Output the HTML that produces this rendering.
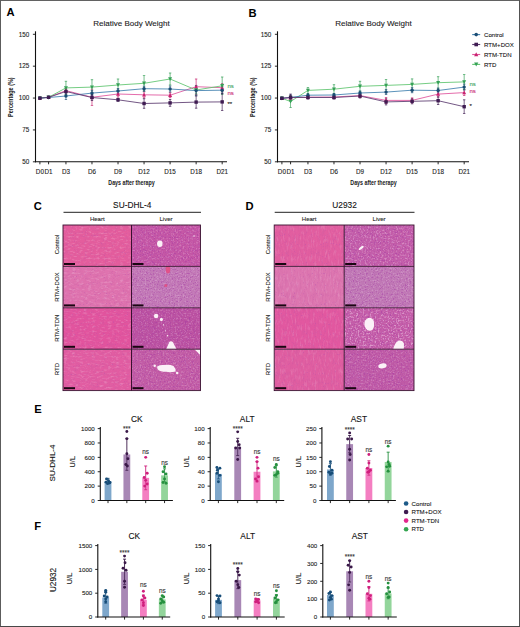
<!DOCTYPE html>
<html><head><meta charset="utf-8"><title>Figure</title><style>html,body{margin:0;padding:0;background:#fff;overflow:hidden}svg{display:block}</style></head><body>
<svg width="520" height="627" viewBox="0 0 520 627" font-family="'Liberation Sans', sans-serif">
<defs>
<filter id="hd0" x="0" y="0" width="100%" height="100%"><feTurbulence type="fractalNoise" baseFrequency="0.2 0.5" numOctaves="3" seed="1"/><feColorMatrix type="matrix" values="0 0 0 0 0.55  0 0 0 0 0.1  0 0 0 0 0.35  3 0 0 0 -1.4"/></filter>
<filter id="hl0" x="0" y="0" width="100%" height="100%"><feTurbulence type="fractalNoise" baseFrequency="0.25 0.55" numOctaves="3" seed="2"/><feColorMatrix type="matrix" values="0 0 0 0 1  0 0 0 0 0.9  0 0 0 0 0.97  3 0 0 0 -1.5"/></filter>
<filter id="ld0" x="0" y="0" width="100%" height="100%"><feTurbulence type="fractalNoise" baseFrequency="0.75" numOctaves="2" seed="2"/><feColorMatrix type="matrix" values="0 0 0 0 0.36  0 0 0 0 0.04  0 0 0 0 0.38  5 0 0 0 -2.7"/></filter>
<filter id="ll0" x="0" y="0" width="100%" height="100%"><feTurbulence type="fractalNoise" baseFrequency="0.6" numOctaves="2" seed="3"/><feColorMatrix type="matrix" values="0 0 0 0 0.98  0 0 0 0 0.8  0 0 0 0 0.94  4 0 0 0 -2.0"/></filter>
<filter id="hd1" x="0" y="0" width="100%" height="100%"><feTurbulence type="fractalNoise" baseFrequency="0.55 0.14" numOctaves="3" seed="4"/><feColorMatrix type="matrix" values="0 0 0 0 0.55  0 0 0 0 0.1  0 0 0 0 0.35  3 0 0 0 -1.4"/></filter>
<filter id="hl1" x="0" y="0" width="100%" height="100%"><feTurbulence type="fractalNoise" baseFrequency="0.6 0.16" numOctaves="3" seed="5"/><feColorMatrix type="matrix" values="0 0 0 0 1  0 0 0 0 0.9  0 0 0 0 0.97  3 0 0 0 -1.5"/></filter>
<filter id="ld1" x="0" y="0" width="100%" height="100%"><feTurbulence type="fractalNoise" baseFrequency="0.75" numOctaves="2" seed="7"/><feColorMatrix type="matrix" values="0 0 0 0 0.36  0 0 0 0 0.04  0 0 0 0 0.38  5 0 0 0 -2.7"/></filter>
<filter id="ll1" x="0" y="0" width="100%" height="100%"><feTurbulence type="fractalNoise" baseFrequency="0.6" numOctaves="2" seed="8"/><feColorMatrix type="matrix" values="0 0 0 0 0.98  0 0 0 0 0.8  0 0 0 0 0.94  4 0 0 0 -2.0"/></filter>
<filter id="hd2" x="0" y="0" width="100%" height="100%"><feTurbulence type="fractalNoise" baseFrequency="0.2 0.5" numOctaves="3" seed="7"/><feColorMatrix type="matrix" values="0 0 0 0 0.55  0 0 0 0 0.1  0 0 0 0 0.35  3 0 0 0 -1.4"/></filter>
<filter id="hl2" x="0" y="0" width="100%" height="100%"><feTurbulence type="fractalNoise" baseFrequency="0.25 0.55" numOctaves="3" seed="8"/><feColorMatrix type="matrix" values="0 0 0 0 1  0 0 0 0 0.9  0 0 0 0 0.97  3 0 0 0 -1.5"/></filter>
<filter id="ld2" x="0" y="0" width="100%" height="100%"><feTurbulence type="fractalNoise" baseFrequency="0.75" numOctaves="2" seed="12"/><feColorMatrix type="matrix" values="0 0 0 0 0.36  0 0 0 0 0.04  0 0 0 0 0.38  5 0 0 0 -2.7"/></filter>
<filter id="ll2" x="0" y="0" width="100%" height="100%"><feTurbulence type="fractalNoise" baseFrequency="0.6" numOctaves="2" seed="13"/><feColorMatrix type="matrix" values="0 0 0 0 0.98  0 0 0 0 0.8  0 0 0 0 0.94  4 0 0 0 -2.0"/></filter>
<filter id="hd3" x="0" y="0" width="100%" height="100%"><feTurbulence type="fractalNoise" baseFrequency="0.55 0.14" numOctaves="3" seed="10"/><feColorMatrix type="matrix" values="0 0 0 0 0.55  0 0 0 0 0.1  0 0 0 0 0.35  3 0 0 0 -1.4"/></filter>
<filter id="hl3" x="0" y="0" width="100%" height="100%"><feTurbulence type="fractalNoise" baseFrequency="0.6 0.16" numOctaves="3" seed="11"/><feColorMatrix type="matrix" values="0 0 0 0 1  0 0 0 0 0.9  0 0 0 0 0.97  3 0 0 0 -1.5"/></filter>
<filter id="ld3" x="0" y="0" width="100%" height="100%"><feTurbulence type="fractalNoise" baseFrequency="0.75" numOctaves="2" seed="17"/><feColorMatrix type="matrix" values="0 0 0 0 0.36  0 0 0 0 0.04  0 0 0 0 0.38  5 0 0 0 -2.7"/></filter>
<filter id="ll3" x="0" y="0" width="100%" height="100%"><feTurbulence type="fractalNoise" baseFrequency="0.6" numOctaves="2" seed="18"/><feColorMatrix type="matrix" values="0 0 0 0 0.98  0 0 0 0 0.8  0 0 0 0 0.94  4 0 0 0 -2.0"/></filter>
<filter id="hn0" x="0" y="0" width="100%" height="100%"><feTurbulence type="fractalNoise" baseFrequency="0.9" numOctaves="1" seed="11"/><feColorMatrix type="matrix" values="0 0 0 0 0.45  0 0 0 0 0.08  0 0 0 0 0.45  8 0 0 0 -5.2"/></filter>
<filter id="hn1" x="0" y="0" width="100%" height="100%"><feTurbulence type="fractalNoise" baseFrequency="0.9" numOctaves="1" seed="18"/><feColorMatrix type="matrix" values="0 0 0 0 0.45  0 0 0 0 0.08  0 0 0 0 0.45  8 0 0 0 -5.2"/></filter>
<filter id="hn2" x="0" y="0" width="100%" height="100%"><feTurbulence type="fractalNoise" baseFrequency="0.9" numOctaves="1" seed="25"/><feColorMatrix type="matrix" values="0 0 0 0 0.45  0 0 0 0 0.08  0 0 0 0 0.45  8 0 0 0 -5.2"/></filter>
<filter id="hn3" x="0" y="0" width="100%" height="100%"><feTurbulence type="fractalNoise" baseFrequency="0.9" numOctaves="1" seed="32"/><feColorMatrix type="matrix" values="0 0 0 0 0.45  0 0 0 0 0.08  0 0 0 0 0.45  8 0 0 0 -5.2"/></filter>
</defs>
<rect x="0" y="0" width="520" height="627" fill="#fff"/>
<text x="6.50" y="16.20" font-size="11.2" text-anchor="start" fill="#000" font-weight="bold" >A</text>
<text x="248.60" y="16.60" font-size="11.2" text-anchor="start" fill="#000" font-weight="bold" >B</text>
<text x="33.70" y="210.40" font-size="11.2" text-anchor="start" fill="#000" font-weight="bold" >C</text>
<text x="245.50" y="210.20" font-size="11.2" text-anchor="start" fill="#000" font-weight="bold" >D</text>
<text x="34.30" y="413.30" font-size="11.2" text-anchor="start" fill="#000" font-weight="bold" >E</text>
<text x="34.30" y="530.30" font-size="11.2" text-anchor="start" fill="#000" font-weight="bold" >F</text>
<text x="131.50" y="26.00" font-size="8.0" text-anchor="middle" fill="#1a1a1a" font-weight="normal" stroke="#1a1a1a" stroke-width="0.1" >Relative Body Weight</text>
<line x1="35.50" y1="31.30" x2="35.50" y2="162.30" stroke="#111" stroke-width="1.1" />
<line x1="35.00" y1="161.80" x2="227.00" y2="161.80" stroke="#111" stroke-width="1.1" />
<line x1="32.90" y1="34.30" x2="35.50" y2="34.30" stroke="#111" stroke-width="0.9" />
<text x="29.30" y="36.60" font-size="6.3" text-anchor="end" fill="#222" font-weight="normal" stroke="#222" stroke-width="0.1" >150</text>
<line x1="32.90" y1="66.18" x2="35.50" y2="66.18" stroke="#111" stroke-width="0.9" />
<text x="29.30" y="68.48" font-size="6.3" text-anchor="end" fill="#222" font-weight="normal" stroke="#222" stroke-width="0.1" >125</text>
<line x1="32.90" y1="98.05" x2="35.50" y2="98.05" stroke="#111" stroke-width="0.9" />
<text x="29.30" y="100.35" font-size="6.3" text-anchor="end" fill="#222" font-weight="normal" stroke="#222" stroke-width="0.1" >100</text>
<line x1="32.90" y1="129.93" x2="35.50" y2="129.93" stroke="#111" stroke-width="0.9" />
<text x="29.30" y="132.23" font-size="6.3" text-anchor="end" fill="#222" font-weight="normal" stroke="#222" stroke-width="0.1" >75</text>
<line x1="32.90" y1="161.80" x2="35.50" y2="161.80" stroke="#111" stroke-width="0.9" />
<text x="29.30" y="164.10" font-size="6.3" text-anchor="end" fill="#222" font-weight="normal" stroke="#222" stroke-width="0.1" >50</text>
<line x1="39.90" y1="161.80" x2="39.90" y2="164.30" stroke="#111" stroke-width="0.9" />
<text x="39.90" y="173.60" font-size="6.3" text-anchor="middle" fill="#222" font-weight="normal" stroke="#222" stroke-width="0.1" >D0</text>
<line x1="48.58" y1="161.80" x2="48.58" y2="164.30" stroke="#111" stroke-width="0.9" />
<text x="48.58" y="173.60" font-size="6.3" text-anchor="middle" fill="#222" font-weight="normal" stroke="#222" stroke-width="0.1" >D1</text>
<line x1="65.94" y1="161.80" x2="65.94" y2="164.30" stroke="#111" stroke-width="0.9" />
<text x="65.94" y="173.60" font-size="6.3" text-anchor="middle" fill="#222" font-weight="normal" stroke="#222" stroke-width="0.1" >D3</text>
<line x1="91.98" y1="161.80" x2="91.98" y2="164.30" stroke="#111" stroke-width="0.9" />
<text x="91.98" y="173.60" font-size="6.3" text-anchor="middle" fill="#222" font-weight="normal" stroke="#222" stroke-width="0.1" >D6</text>
<line x1="118.02" y1="161.80" x2="118.02" y2="164.30" stroke="#111" stroke-width="0.9" />
<text x="118.02" y="173.60" font-size="6.3" text-anchor="middle" fill="#222" font-weight="normal" stroke="#222" stroke-width="0.1" >D9</text>
<line x1="144.06" y1="161.80" x2="144.06" y2="164.30" stroke="#111" stroke-width="0.9" />
<text x="144.06" y="173.60" font-size="6.3" text-anchor="middle" fill="#222" font-weight="normal" stroke="#222" stroke-width="0.1" >D12</text>
<line x1="170.10" y1="161.80" x2="170.10" y2="164.30" stroke="#111" stroke-width="0.9" />
<text x="170.10" y="173.60" font-size="6.3" text-anchor="middle" fill="#222" font-weight="normal" stroke="#222" stroke-width="0.1" >D15</text>
<line x1="196.14" y1="161.80" x2="196.14" y2="164.30" stroke="#111" stroke-width="0.9" />
<text x="196.14" y="173.60" font-size="6.3" text-anchor="middle" fill="#222" font-weight="normal" stroke="#222" stroke-width="0.1" >D18</text>
<line x1="222.18" y1="161.80" x2="222.18" y2="164.30" stroke="#111" stroke-width="0.9" />
<text x="222.18" y="173.60" font-size="6.3" text-anchor="middle" fill="#222" font-weight="normal" stroke="#222" stroke-width="0.1" >D21</text>
<text x="108.30" y="184.6" font-size="7.0" font-weight="bold" fill="#1a1a1a" textLength="46.4" lengthAdjust="spacingAndGlyphs">Days after therapy</text>
<text x="0" y="0" font-size="7.0" font-weight="bold" fill="#1a1a1a" textLength="39.6" lengthAdjust="spacingAndGlyphs" transform="translate(12.80,116.9) rotate(-90)">Percentage (%)</text>
<line x1="48.58" y1="96.50" x2="48.58" y2="98.10" stroke="#c8236f" stroke-width="0.75" opacity="0.9"/>
<line x1="47.38" y1="96.50" x2="49.78" y2="96.50" stroke="#c8236f" stroke-width="0.8" opacity="0.9"/>
<line x1="47.38" y1="98.10" x2="49.78" y2="98.10" stroke="#c8236f" stroke-width="0.8" opacity="0.9"/>
<line x1="65.94" y1="88.60" x2="65.94" y2="92.60" stroke="#c8236f" stroke-width="0.75" opacity="0.9"/>
<line x1="64.74" y1="88.60" x2="67.14" y2="88.60" stroke="#c8236f" stroke-width="0.8" opacity="0.9"/>
<line x1="64.74" y1="92.60" x2="67.14" y2="92.60" stroke="#c8236f" stroke-width="0.8" opacity="0.9"/>
<line x1="91.98" y1="89.20" x2="91.98" y2="105.40" stroke="#c8236f" stroke-width="0.75" opacity="0.9"/>
<line x1="90.78" y1="89.20" x2="93.18" y2="89.20" stroke="#c8236f" stroke-width="0.8" opacity="0.9"/>
<line x1="90.78" y1="105.40" x2="93.18" y2="105.40" stroke="#c8236f" stroke-width="0.8" opacity="0.9"/>
<line x1="118.02" y1="91.00" x2="118.02" y2="97.00" stroke="#c8236f" stroke-width="0.75" opacity="0.9"/>
<line x1="116.82" y1="91.00" x2="119.22" y2="91.00" stroke="#c8236f" stroke-width="0.8" opacity="0.9"/>
<line x1="116.82" y1="97.00" x2="119.22" y2="97.00" stroke="#c8236f" stroke-width="0.8" opacity="0.9"/>
<line x1="144.06" y1="91.80" x2="144.06" y2="97.80" stroke="#c8236f" stroke-width="0.75" opacity="0.9"/>
<line x1="142.86" y1="91.80" x2="145.26" y2="91.80" stroke="#c8236f" stroke-width="0.8" opacity="0.9"/>
<line x1="142.86" y1="97.80" x2="145.26" y2="97.80" stroke="#c8236f" stroke-width="0.8" opacity="0.9"/>
<line x1="170.10" y1="92.70" x2="170.10" y2="97.70" stroke="#c8236f" stroke-width="0.75" opacity="0.9"/>
<line x1="168.90" y1="92.70" x2="171.30" y2="92.70" stroke="#c8236f" stroke-width="0.8" opacity="0.9"/>
<line x1="168.90" y1="97.70" x2="171.30" y2="97.70" stroke="#c8236f" stroke-width="0.8" opacity="0.9"/>
<line x1="196.14" y1="79.00" x2="196.14" y2="94.40" stroke="#c8236f" stroke-width="0.75" opacity="0.9"/>
<line x1="194.94" y1="79.00" x2="197.34" y2="79.00" stroke="#c8236f" stroke-width="0.8" opacity="0.9"/>
<line x1="194.94" y1="94.40" x2="197.34" y2="94.40" stroke="#c8236f" stroke-width="0.8" opacity="0.9"/>
<line x1="222.18" y1="83.70" x2="222.18" y2="91.70" stroke="#c8236f" stroke-width="0.75" opacity="0.9"/>
<line x1="220.98" y1="83.70" x2="223.38" y2="83.70" stroke="#c8236f" stroke-width="0.8" opacity="0.9"/>
<line x1="220.98" y1="91.70" x2="223.38" y2="91.70" stroke="#c8236f" stroke-width="0.8" opacity="0.9"/>
<line x1="48.58" y1="96.50" x2="48.58" y2="98.10" stroke="#36a057" stroke-width="0.75" opacity="0.9"/>
<line x1="47.38" y1="96.50" x2="49.78" y2="96.50" stroke="#36a057" stroke-width="0.8" opacity="0.9"/>
<line x1="47.38" y1="98.10" x2="49.78" y2="98.10" stroke="#36a057" stroke-width="0.8" opacity="0.9"/>
<line x1="65.94" y1="81.30" x2="65.94" y2="94.50" stroke="#36a057" stroke-width="0.75" opacity="0.9"/>
<line x1="64.74" y1="81.30" x2="67.14" y2="81.30" stroke="#36a057" stroke-width="0.8" opacity="0.9"/>
<line x1="64.74" y1="94.50" x2="67.14" y2="94.50" stroke="#36a057" stroke-width="0.8" opacity="0.9"/>
<line x1="91.98" y1="79.70" x2="91.98" y2="94.50" stroke="#36a057" stroke-width="0.75" opacity="0.9"/>
<line x1="90.78" y1="79.70" x2="93.18" y2="79.70" stroke="#36a057" stroke-width="0.8" opacity="0.9"/>
<line x1="90.78" y1="94.50" x2="93.18" y2="94.50" stroke="#36a057" stroke-width="0.8" opacity="0.9"/>
<line x1="118.02" y1="79.00" x2="118.02" y2="91.00" stroke="#36a057" stroke-width="0.75" opacity="0.9"/>
<line x1="116.82" y1="79.00" x2="119.22" y2="79.00" stroke="#36a057" stroke-width="0.8" opacity="0.9"/>
<line x1="116.82" y1="91.00" x2="119.22" y2="91.00" stroke="#36a057" stroke-width="0.8" opacity="0.9"/>
<line x1="144.06" y1="75.60" x2="144.06" y2="91.00" stroke="#36a057" stroke-width="0.75" opacity="0.9"/>
<line x1="142.86" y1="75.60" x2="145.26" y2="75.60" stroke="#36a057" stroke-width="0.8" opacity="0.9"/>
<line x1="142.86" y1="91.00" x2="145.26" y2="91.00" stroke="#36a057" stroke-width="0.8" opacity="0.9"/>
<line x1="170.10" y1="73.00" x2="170.10" y2="85.00" stroke="#36a057" stroke-width="0.75" opacity="0.9"/>
<line x1="168.90" y1="73.00" x2="171.30" y2="73.00" stroke="#36a057" stroke-width="0.8" opacity="0.9"/>
<line x1="168.90" y1="85.00" x2="171.30" y2="85.00" stroke="#36a057" stroke-width="0.8" opacity="0.9"/>
<line x1="196.14" y1="86.00" x2="196.14" y2="94.00" stroke="#36a057" stroke-width="0.75" opacity="0.9"/>
<line x1="194.94" y1="86.00" x2="197.34" y2="86.00" stroke="#36a057" stroke-width="0.8" opacity="0.9"/>
<line x1="194.94" y1="94.00" x2="197.34" y2="94.00" stroke="#36a057" stroke-width="0.8" opacity="0.9"/>
<line x1="222.18" y1="77.00" x2="222.18" y2="94.60" stroke="#36a057" stroke-width="0.75" opacity="0.9"/>
<line x1="220.98" y1="77.00" x2="223.38" y2="77.00" stroke="#36a057" stroke-width="0.8" opacity="0.9"/>
<line x1="220.98" y1="94.60" x2="223.38" y2="94.60" stroke="#36a057" stroke-width="0.8" opacity="0.9"/>
<line x1="48.58" y1="96.70" x2="48.58" y2="98.30" stroke="#1b4d73" stroke-width="0.75" opacity="0.9"/>
<line x1="47.38" y1="96.70" x2="49.78" y2="96.70" stroke="#1b4d73" stroke-width="0.8" opacity="0.9"/>
<line x1="47.38" y1="98.30" x2="49.78" y2="98.30" stroke="#1b4d73" stroke-width="0.8" opacity="0.9"/>
<line x1="65.94" y1="92.60" x2="65.94" y2="99.40" stroke="#1b4d73" stroke-width="0.75" opacity="0.9"/>
<line x1="64.74" y1="92.60" x2="67.14" y2="92.60" stroke="#1b4d73" stroke-width="0.8" opacity="0.9"/>
<line x1="64.74" y1="99.40" x2="67.14" y2="99.40" stroke="#1b4d73" stroke-width="0.8" opacity="0.9"/>
<line x1="91.98" y1="90.60" x2="91.98" y2="95.60" stroke="#1b4d73" stroke-width="0.75" opacity="0.9"/>
<line x1="90.78" y1="90.60" x2="93.18" y2="90.60" stroke="#1b4d73" stroke-width="0.8" opacity="0.9"/>
<line x1="90.78" y1="95.60" x2="93.18" y2="95.60" stroke="#1b4d73" stroke-width="0.8" opacity="0.9"/>
<line x1="118.02" y1="88.50" x2="118.02" y2="93.50" stroke="#1b4d73" stroke-width="0.75" opacity="0.9"/>
<line x1="116.82" y1="88.50" x2="119.22" y2="88.50" stroke="#1b4d73" stroke-width="0.8" opacity="0.9"/>
<line x1="116.82" y1="93.50" x2="119.22" y2="93.50" stroke="#1b4d73" stroke-width="0.8" opacity="0.9"/>
<line x1="144.06" y1="86.20" x2="144.06" y2="91.20" stroke="#1b4d73" stroke-width="0.75" opacity="0.9"/>
<line x1="142.86" y1="86.20" x2="145.26" y2="86.20" stroke="#1b4d73" stroke-width="0.8" opacity="0.9"/>
<line x1="142.86" y1="91.20" x2="145.26" y2="91.20" stroke="#1b4d73" stroke-width="0.8" opacity="0.9"/>
<line x1="170.10" y1="86.00" x2="170.10" y2="92.00" stroke="#1b4d73" stroke-width="0.75" opacity="0.9"/>
<line x1="168.90" y1="86.00" x2="171.30" y2="86.00" stroke="#1b4d73" stroke-width="0.8" opacity="0.9"/>
<line x1="168.90" y1="92.00" x2="171.30" y2="92.00" stroke="#1b4d73" stroke-width="0.8" opacity="0.9"/>
<line x1="196.14" y1="85.60" x2="196.14" y2="95.60" stroke="#1b4d73" stroke-width="0.75" opacity="0.9"/>
<line x1="194.94" y1="85.60" x2="197.34" y2="85.60" stroke="#1b4d73" stroke-width="0.8" opacity="0.9"/>
<line x1="194.94" y1="95.60" x2="197.34" y2="95.60" stroke="#1b4d73" stroke-width="0.8" opacity="0.9"/>
<line x1="222.18" y1="86.70" x2="222.18" y2="93.70" stroke="#1b4d73" stroke-width="0.75" opacity="0.9"/>
<line x1="220.98" y1="86.70" x2="223.38" y2="86.70" stroke="#1b4d73" stroke-width="0.8" opacity="0.9"/>
<line x1="220.98" y1="93.70" x2="223.38" y2="93.70" stroke="#1b4d73" stroke-width="0.8" opacity="0.9"/>
<line x1="48.58" y1="96.50" x2="48.58" y2="98.10" stroke="#3f1c52" stroke-width="0.75" opacity="0.9"/>
<line x1="47.38" y1="96.50" x2="49.78" y2="96.50" stroke="#3f1c52" stroke-width="0.8" opacity="0.9"/>
<line x1="47.38" y1="98.10" x2="49.78" y2="98.10" stroke="#3f1c52" stroke-width="0.8" opacity="0.9"/>
<line x1="65.94" y1="89.00" x2="65.94" y2="94.00" stroke="#3f1c52" stroke-width="0.75" opacity="0.9"/>
<line x1="64.74" y1="89.00" x2="67.14" y2="89.00" stroke="#3f1c52" stroke-width="0.8" opacity="0.9"/>
<line x1="64.74" y1="94.00" x2="67.14" y2="94.00" stroke="#3f1c52" stroke-width="0.8" opacity="0.9"/>
<line x1="91.98" y1="94.50" x2="91.98" y2="100.50" stroke="#3f1c52" stroke-width="0.75" opacity="0.9"/>
<line x1="90.78" y1="94.50" x2="93.18" y2="94.50" stroke="#3f1c52" stroke-width="0.8" opacity="0.9"/>
<line x1="90.78" y1="100.50" x2="93.18" y2="100.50" stroke="#3f1c52" stroke-width="0.8" opacity="0.9"/>
<line x1="118.02" y1="98.30" x2="118.02" y2="101.30" stroke="#3f1c52" stroke-width="0.75" opacity="0.9"/>
<line x1="116.82" y1="98.30" x2="119.22" y2="98.30" stroke="#3f1c52" stroke-width="0.8" opacity="0.9"/>
<line x1="116.82" y1="101.30" x2="119.22" y2="101.30" stroke="#3f1c52" stroke-width="0.8" opacity="0.9"/>
<line x1="144.06" y1="98.70" x2="144.06" y2="108.30" stroke="#3f1c52" stroke-width="0.75" opacity="0.9"/>
<line x1="142.86" y1="98.70" x2="145.26" y2="98.70" stroke="#3f1c52" stroke-width="0.8" opacity="0.9"/>
<line x1="142.86" y1="108.30" x2="145.26" y2="108.30" stroke="#3f1c52" stroke-width="0.8" opacity="0.9"/>
<line x1="170.10" y1="99.50" x2="170.10" y2="106.30" stroke="#3f1c52" stroke-width="0.75" opacity="0.9"/>
<line x1="168.90" y1="99.50" x2="171.30" y2="99.50" stroke="#3f1c52" stroke-width="0.8" opacity="0.9"/>
<line x1="168.90" y1="106.30" x2="171.30" y2="106.30" stroke="#3f1c52" stroke-width="0.8" opacity="0.9"/>
<line x1="196.14" y1="96.00" x2="196.14" y2="108.20" stroke="#3f1c52" stroke-width="0.75" opacity="0.9"/>
<line x1="194.94" y1="96.00" x2="197.34" y2="96.00" stroke="#3f1c52" stroke-width="0.8" opacity="0.9"/>
<line x1="194.94" y1="108.20" x2="197.34" y2="108.20" stroke="#3f1c52" stroke-width="0.8" opacity="0.9"/>
<line x1="222.18" y1="93.20" x2="222.18" y2="110.60" stroke="#3f1c52" stroke-width="0.75" opacity="0.9"/>
<line x1="220.98" y1="93.20" x2="223.38" y2="93.20" stroke="#3f1c52" stroke-width="0.8" opacity="0.9"/>
<line x1="220.98" y1="110.60" x2="223.38" y2="110.60" stroke="#3f1c52" stroke-width="0.8" opacity="0.9"/>
<polyline points="39.90,98.10 48.58,97.30 65.94,90.60 91.98,97.30 118.02,94.00 144.06,94.80 170.10,95.20 196.14,86.70 222.18,87.70" fill="none" stroke="#e0539d" stroke-width="0.95" opacity="0.9"/>
<polyline points="39.90,98.10 48.58,97.30 65.94,87.90 91.98,87.10 118.02,85.00 144.06,83.30 170.10,79.00 196.14,90.00 222.18,85.80" fill="none" stroke="#5ec46e" stroke-width="0.95" opacity="0.9"/>
<polyline points="39.90,98.10 48.58,97.50 65.94,96.00 91.98,93.10 118.02,91.00 144.06,88.70 170.10,89.00 196.14,90.60 222.18,90.20" fill="none" stroke="#3f7fae" stroke-width="0.95" opacity="0.9"/>
<polyline points="39.90,98.10 48.58,97.30 65.94,91.50 91.98,97.50 118.02,99.80 144.06,103.50 170.10,102.90 196.14,102.10 222.18,101.90" fill="none" stroke="#5b3b6f" stroke-width="0.95" opacity="0.9"/>
<polygon points="39.90,96.00 41.90,99.80 37.90,99.80" fill="#c8236f"/>
<polygon points="48.58,95.20 50.58,99.00 46.58,99.00" fill="#c8236f"/>
<polygon points="65.94,88.50 67.94,92.30 63.94,92.30" fill="#c8236f"/>
<polygon points="91.98,95.20 93.98,99.00 89.98,99.00" fill="#c8236f"/>
<polygon points="118.02,91.90 120.02,95.70 116.02,95.70" fill="#c8236f"/>
<polygon points="144.06,92.70 146.06,96.50 142.06,96.50" fill="#c8236f"/>
<polygon points="170.10,93.10 172.10,96.90 168.10,96.90" fill="#c8236f"/>
<polygon points="196.14,84.60 198.14,88.40 194.14,88.40" fill="#c8236f"/>
<polygon points="222.18,85.60 224.18,89.40 220.18,89.40" fill="#c8236f"/>
<polygon points="39.90,100.20 41.90,96.40 37.90,96.40" fill="#36a057"/>
<polygon points="48.58,99.40 50.58,95.60 46.58,95.60" fill="#36a057"/>
<polygon points="65.94,90.00 67.94,86.20 63.94,86.20" fill="#36a057"/>
<polygon points="91.98,89.20 93.98,85.40 89.98,85.40" fill="#36a057"/>
<polygon points="118.02,87.10 120.02,83.30 116.02,83.30" fill="#36a057"/>
<polygon points="144.06,85.40 146.06,81.60 142.06,81.60" fill="#36a057"/>
<polygon points="170.10,81.10 172.10,77.30 168.10,77.30" fill="#36a057"/>
<polygon points="196.14,92.10 198.14,88.30 194.14,88.30" fill="#36a057"/>
<polygon points="222.18,87.90 224.18,84.10 220.18,84.10" fill="#36a057"/>
<circle cx="39.90" cy="98.10" r="1.7" fill="#1b4d73"/>
<circle cx="48.58" cy="97.50" r="1.7" fill="#1b4d73"/>
<circle cx="65.94" cy="96.00" r="1.7" fill="#1b4d73"/>
<circle cx="91.98" cy="93.10" r="1.7" fill="#1b4d73"/>
<circle cx="118.02" cy="91.00" r="1.7" fill="#1b4d73"/>
<circle cx="144.06" cy="88.70" r="1.7" fill="#1b4d73"/>
<circle cx="170.10" cy="89.00" r="1.7" fill="#1b4d73"/>
<circle cx="196.14" cy="90.60" r="1.7" fill="#1b4d73"/>
<circle cx="222.18" cy="90.20" r="1.7" fill="#1b4d73"/>
<rect x="38.20" y="96.40" width="3.4" height="3.4" fill="#3f1c52"/>
<rect x="46.88" y="95.60" width="3.4" height="3.4" fill="#3f1c52"/>
<rect x="64.24" y="89.80" width="3.4" height="3.4" fill="#3f1c52"/>
<rect x="90.28" y="95.80" width="3.4" height="3.4" fill="#3f1c52"/>
<rect x="116.32" y="98.10" width="3.4" height="3.4" fill="#3f1c52"/>
<rect x="142.36" y="101.80" width="3.4" height="3.4" fill="#3f1c52"/>
<rect x="168.40" y="101.20" width="3.4" height="3.4" fill="#3f1c52"/>
<rect x="194.44" y="100.40" width="3.4" height="3.4" fill="#3f1c52"/>
<rect x="220.48" y="100.20" width="3.4" height="3.4" fill="#3f1c52"/>
<text x="227.38" y="88.20" font-size="6.0" text-anchor="start" fill="#36a057" font-weight="normal" stroke="#36a057" stroke-width="0.1" >ns</text>
<text x="227.38" y="95.40" font-size="6.0" text-anchor="start" fill="#c8236f" font-weight="normal" stroke="#c8236f" stroke-width="0.1" >ns</text>
<text x="227.38" y="105.80" font-size="6.0" text-anchor="start" fill="#222" font-weight="normal" stroke="#222" stroke-width="0.1" >**</text>
<text x="373.50" y="26.00" font-size="8.0" text-anchor="middle" fill="#1a1a1a" font-weight="normal" stroke="#1a1a1a" stroke-width="0.1" >Relative Body Weight</text>
<line x1="277.50" y1="31.30" x2="277.50" y2="162.30" stroke="#111" stroke-width="1.1" />
<line x1="277.00" y1="161.80" x2="469.00" y2="161.80" stroke="#111" stroke-width="1.1" />
<line x1="274.90" y1="34.30" x2="277.50" y2="34.30" stroke="#111" stroke-width="0.9" />
<text x="271.30" y="36.60" font-size="6.3" text-anchor="end" fill="#222" font-weight="normal" stroke="#222" stroke-width="0.1" >150</text>
<line x1="274.90" y1="66.18" x2="277.50" y2="66.18" stroke="#111" stroke-width="0.9" />
<text x="271.30" y="68.48" font-size="6.3" text-anchor="end" fill="#222" font-weight="normal" stroke="#222" stroke-width="0.1" >125</text>
<line x1="274.90" y1="98.05" x2="277.50" y2="98.05" stroke="#111" stroke-width="0.9" />
<text x="271.30" y="100.35" font-size="6.3" text-anchor="end" fill="#222" font-weight="normal" stroke="#222" stroke-width="0.1" >100</text>
<line x1="274.90" y1="129.93" x2="277.50" y2="129.93" stroke="#111" stroke-width="0.9" />
<text x="271.30" y="132.23" font-size="6.3" text-anchor="end" fill="#222" font-weight="normal" stroke="#222" stroke-width="0.1" >75</text>
<line x1="274.90" y1="161.80" x2="277.50" y2="161.80" stroke="#111" stroke-width="0.9" />
<text x="271.30" y="164.10" font-size="6.3" text-anchor="end" fill="#222" font-weight="normal" stroke="#222" stroke-width="0.1" >50</text>
<line x1="281.90" y1="161.80" x2="281.90" y2="164.30" stroke="#111" stroke-width="0.9" />
<text x="281.90" y="173.60" font-size="6.3" text-anchor="middle" fill="#222" font-weight="normal" stroke="#222" stroke-width="0.1" >D0</text>
<line x1="290.58" y1="161.80" x2="290.58" y2="164.30" stroke="#111" stroke-width="0.9" />
<text x="290.58" y="173.60" font-size="6.3" text-anchor="middle" fill="#222" font-weight="normal" stroke="#222" stroke-width="0.1" >D1</text>
<line x1="307.94" y1="161.80" x2="307.94" y2="164.30" stroke="#111" stroke-width="0.9" />
<text x="307.94" y="173.60" font-size="6.3" text-anchor="middle" fill="#222" font-weight="normal" stroke="#222" stroke-width="0.1" >D3</text>
<line x1="333.98" y1="161.80" x2="333.98" y2="164.30" stroke="#111" stroke-width="0.9" />
<text x="333.98" y="173.60" font-size="6.3" text-anchor="middle" fill="#222" font-weight="normal" stroke="#222" stroke-width="0.1" >D6</text>
<line x1="360.02" y1="161.80" x2="360.02" y2="164.30" stroke="#111" stroke-width="0.9" />
<text x="360.02" y="173.60" font-size="6.3" text-anchor="middle" fill="#222" font-weight="normal" stroke="#222" stroke-width="0.1" >D9</text>
<line x1="386.06" y1="161.80" x2="386.06" y2="164.30" stroke="#111" stroke-width="0.9" />
<text x="386.06" y="173.60" font-size="6.3" text-anchor="middle" fill="#222" font-weight="normal" stroke="#222" stroke-width="0.1" >D12</text>
<line x1="412.10" y1="161.80" x2="412.10" y2="164.30" stroke="#111" stroke-width="0.9" />
<text x="412.10" y="173.60" font-size="6.3" text-anchor="middle" fill="#222" font-weight="normal" stroke="#222" stroke-width="0.1" >D15</text>
<line x1="438.14" y1="161.80" x2="438.14" y2="164.30" stroke="#111" stroke-width="0.9" />
<text x="438.14" y="173.60" font-size="6.3" text-anchor="middle" fill="#222" font-weight="normal" stroke="#222" stroke-width="0.1" >D18</text>
<line x1="464.18" y1="161.80" x2="464.18" y2="164.30" stroke="#111" stroke-width="0.9" />
<text x="464.18" y="173.60" font-size="6.3" text-anchor="middle" fill="#222" font-weight="normal" stroke="#222" stroke-width="0.1" >D21</text>
<text x="350.30" y="184.6" font-size="7.0" font-weight="bold" fill="#1a1a1a" textLength="46.4" lengthAdjust="spacingAndGlyphs">Days after therapy</text>
<text x="0" y="0" font-size="7.0" font-weight="bold" fill="#1a1a1a" textLength="39.6" lengthAdjust="spacingAndGlyphs" transform="translate(254.80,116.9) rotate(-90)">Percentage (%)</text>
<line x1="281.90" y1="97.50" x2="281.90" y2="99.10" stroke="#c8236f" stroke-width="0.75" opacity="0.9"/>
<line x1="280.70" y1="97.50" x2="283.10" y2="97.50" stroke="#c8236f" stroke-width="0.8" opacity="0.9"/>
<line x1="280.70" y1="99.10" x2="283.10" y2="99.10" stroke="#c8236f" stroke-width="0.8" opacity="0.9"/>
<line x1="290.58" y1="95.70" x2="290.58" y2="99.70" stroke="#c8236f" stroke-width="0.75" opacity="0.9"/>
<line x1="289.38" y1="95.70" x2="291.78" y2="95.70" stroke="#c8236f" stroke-width="0.8" opacity="0.9"/>
<line x1="289.38" y1="99.70" x2="291.78" y2="99.70" stroke="#c8236f" stroke-width="0.8" opacity="0.9"/>
<line x1="307.94" y1="95.60" x2="307.94" y2="98.60" stroke="#c8236f" stroke-width="0.75" opacity="0.9"/>
<line x1="306.74" y1="95.60" x2="309.14" y2="95.60" stroke="#c8236f" stroke-width="0.8" opacity="0.9"/>
<line x1="306.74" y1="98.60" x2="309.14" y2="98.60" stroke="#c8236f" stroke-width="0.8" opacity="0.9"/>
<line x1="333.98" y1="95.50" x2="333.98" y2="98.50" stroke="#c8236f" stroke-width="0.75" opacity="0.9"/>
<line x1="332.78" y1="95.50" x2="335.18" y2="95.50" stroke="#c8236f" stroke-width="0.8" opacity="0.9"/>
<line x1="332.78" y1="98.50" x2="335.18" y2="98.50" stroke="#c8236f" stroke-width="0.8" opacity="0.9"/>
<line x1="360.02" y1="93.60" x2="360.02" y2="97.60" stroke="#c8236f" stroke-width="0.75" opacity="0.9"/>
<line x1="358.82" y1="93.60" x2="361.22" y2="93.60" stroke="#c8236f" stroke-width="0.8" opacity="0.9"/>
<line x1="358.82" y1="97.60" x2="361.22" y2="97.60" stroke="#c8236f" stroke-width="0.8" opacity="0.9"/>
<line x1="386.06" y1="97.40" x2="386.06" y2="103.40" stroke="#c8236f" stroke-width="0.75" opacity="0.9"/>
<line x1="384.86" y1="97.40" x2="387.26" y2="97.40" stroke="#c8236f" stroke-width="0.8" opacity="0.9"/>
<line x1="384.86" y1="103.40" x2="387.26" y2="103.40" stroke="#c8236f" stroke-width="0.8" opacity="0.9"/>
<line x1="412.10" y1="97.90" x2="412.10" y2="102.90" stroke="#c8236f" stroke-width="0.75" opacity="0.9"/>
<line x1="410.90" y1="97.90" x2="413.30" y2="97.90" stroke="#c8236f" stroke-width="0.8" opacity="0.9"/>
<line x1="410.90" y1="102.90" x2="413.30" y2="102.90" stroke="#c8236f" stroke-width="0.8" opacity="0.9"/>
<line x1="438.14" y1="91.10" x2="438.14" y2="97.10" stroke="#c8236f" stroke-width="0.75" opacity="0.9"/>
<line x1="436.94" y1="91.10" x2="439.34" y2="91.10" stroke="#c8236f" stroke-width="0.8" opacity="0.9"/>
<line x1="436.94" y1="97.10" x2="439.34" y2="97.10" stroke="#c8236f" stroke-width="0.8" opacity="0.9"/>
<line x1="464.18" y1="89.60" x2="464.18" y2="95.60" stroke="#c8236f" stroke-width="0.75" opacity="0.9"/>
<line x1="462.98" y1="89.60" x2="465.38" y2="89.60" stroke="#c8236f" stroke-width="0.8" opacity="0.9"/>
<line x1="462.98" y1="95.60" x2="465.38" y2="95.60" stroke="#c8236f" stroke-width="0.8" opacity="0.9"/>
<line x1="281.90" y1="97.50" x2="281.90" y2="99.10" stroke="#36a057" stroke-width="0.75" opacity="0.9"/>
<line x1="280.70" y1="97.50" x2="283.10" y2="97.50" stroke="#36a057" stroke-width="0.8" opacity="0.9"/>
<line x1="280.70" y1="99.10" x2="283.10" y2="99.10" stroke="#36a057" stroke-width="0.8" opacity="0.9"/>
<line x1="290.58" y1="95.40" x2="290.58" y2="107.60" stroke="#36a057" stroke-width="0.75" opacity="0.9"/>
<line x1="289.38" y1="95.40" x2="291.78" y2="95.40" stroke="#36a057" stroke-width="0.8" opacity="0.9"/>
<line x1="289.38" y1="107.60" x2="291.78" y2="107.60" stroke="#36a057" stroke-width="0.8" opacity="0.9"/>
<line x1="307.94" y1="87.40" x2="307.94" y2="93.40" stroke="#36a057" stroke-width="0.75" opacity="0.9"/>
<line x1="306.74" y1="87.40" x2="309.14" y2="87.40" stroke="#36a057" stroke-width="0.8" opacity="0.9"/>
<line x1="306.74" y1="93.40" x2="309.14" y2="93.40" stroke="#36a057" stroke-width="0.8" opacity="0.9"/>
<line x1="333.98" y1="84.70" x2="333.98" y2="93.70" stroke="#36a057" stroke-width="0.75" opacity="0.9"/>
<line x1="332.78" y1="84.70" x2="335.18" y2="84.70" stroke="#36a057" stroke-width="0.8" opacity="0.9"/>
<line x1="332.78" y1="93.70" x2="335.18" y2="93.70" stroke="#36a057" stroke-width="0.8" opacity="0.9"/>
<line x1="360.02" y1="81.30" x2="360.02" y2="91.30" stroke="#36a057" stroke-width="0.75" opacity="0.9"/>
<line x1="358.82" y1="81.30" x2="361.22" y2="81.30" stroke="#36a057" stroke-width="0.8" opacity="0.9"/>
<line x1="358.82" y1="91.30" x2="361.22" y2="91.30" stroke="#36a057" stroke-width="0.8" opacity="0.9"/>
<line x1="386.06" y1="79.40" x2="386.06" y2="91.40" stroke="#36a057" stroke-width="0.75" opacity="0.9"/>
<line x1="384.86" y1="79.40" x2="387.26" y2="79.40" stroke="#36a057" stroke-width="0.8" opacity="0.9"/>
<line x1="384.86" y1="91.40" x2="387.26" y2="91.40" stroke="#36a057" stroke-width="0.8" opacity="0.9"/>
<line x1="412.10" y1="78.90" x2="412.10" y2="89.90" stroke="#36a057" stroke-width="0.75" opacity="0.9"/>
<line x1="410.90" y1="78.90" x2="413.30" y2="78.90" stroke="#36a057" stroke-width="0.8" opacity="0.9"/>
<line x1="410.90" y1="89.90" x2="413.30" y2="89.90" stroke="#36a057" stroke-width="0.8" opacity="0.9"/>
<line x1="438.14" y1="76.70" x2="438.14" y2="88.70" stroke="#36a057" stroke-width="0.75" opacity="0.9"/>
<line x1="436.94" y1="76.70" x2="439.34" y2="76.70" stroke="#36a057" stroke-width="0.8" opacity="0.9"/>
<line x1="436.94" y1="88.70" x2="439.34" y2="88.70" stroke="#36a057" stroke-width="0.8" opacity="0.9"/>
<line x1="464.18" y1="74.40" x2="464.18" y2="89.40" stroke="#36a057" stroke-width="0.75" opacity="0.9"/>
<line x1="462.98" y1="74.40" x2="465.38" y2="74.40" stroke="#36a057" stroke-width="0.8" opacity="0.9"/>
<line x1="462.98" y1="89.40" x2="465.38" y2="89.40" stroke="#36a057" stroke-width="0.8" opacity="0.9"/>
<line x1="281.90" y1="97.50" x2="281.90" y2="99.10" stroke="#1b4d73" stroke-width="0.75" opacity="0.9"/>
<line x1="280.70" y1="97.50" x2="283.10" y2="97.50" stroke="#1b4d73" stroke-width="0.8" opacity="0.9"/>
<line x1="280.70" y1="99.10" x2="283.10" y2="99.10" stroke="#1b4d73" stroke-width="0.8" opacity="0.9"/>
<line x1="290.58" y1="94.90" x2="290.58" y2="99.90" stroke="#1b4d73" stroke-width="0.75" opacity="0.9"/>
<line x1="289.38" y1="94.90" x2="291.78" y2="94.90" stroke="#1b4d73" stroke-width="0.8" opacity="0.9"/>
<line x1="289.38" y1="99.90" x2="291.78" y2="99.90" stroke="#1b4d73" stroke-width="0.8" opacity="0.9"/>
<line x1="307.94" y1="93.70" x2="307.94" y2="96.70" stroke="#1b4d73" stroke-width="0.75" opacity="0.9"/>
<line x1="306.74" y1="93.70" x2="309.14" y2="93.70" stroke="#1b4d73" stroke-width="0.8" opacity="0.9"/>
<line x1="306.74" y1="96.70" x2="309.14" y2="96.70" stroke="#1b4d73" stroke-width="0.8" opacity="0.9"/>
<line x1="333.98" y1="93.50" x2="333.98" y2="96.50" stroke="#1b4d73" stroke-width="0.75" opacity="0.9"/>
<line x1="332.78" y1="93.50" x2="335.18" y2="93.50" stroke="#1b4d73" stroke-width="0.8" opacity="0.9"/>
<line x1="332.78" y1="96.50" x2="335.18" y2="96.50" stroke="#1b4d73" stroke-width="0.8" opacity="0.9"/>
<line x1="360.02" y1="91.00" x2="360.02" y2="95.00" stroke="#1b4d73" stroke-width="0.75" opacity="0.9"/>
<line x1="358.82" y1="91.00" x2="361.22" y2="91.00" stroke="#1b4d73" stroke-width="0.8" opacity="0.9"/>
<line x1="358.82" y1="95.00" x2="361.22" y2="95.00" stroke="#1b4d73" stroke-width="0.8" opacity="0.9"/>
<line x1="386.06" y1="89.60" x2="386.06" y2="94.60" stroke="#1b4d73" stroke-width="0.75" opacity="0.9"/>
<line x1="384.86" y1="89.60" x2="387.26" y2="89.60" stroke="#1b4d73" stroke-width="0.8" opacity="0.9"/>
<line x1="384.86" y1="94.60" x2="387.26" y2="94.60" stroke="#1b4d73" stroke-width="0.8" opacity="0.9"/>
<line x1="412.10" y1="87.70" x2="412.10" y2="92.70" stroke="#1b4d73" stroke-width="0.75" opacity="0.9"/>
<line x1="410.90" y1="87.70" x2="413.30" y2="87.70" stroke="#1b4d73" stroke-width="0.8" opacity="0.9"/>
<line x1="410.90" y1="92.70" x2="413.30" y2="92.70" stroke="#1b4d73" stroke-width="0.8" opacity="0.9"/>
<line x1="438.14" y1="88.00" x2="438.14" y2="93.00" stroke="#1b4d73" stroke-width="0.75" opacity="0.9"/>
<line x1="436.94" y1="88.00" x2="439.34" y2="88.00" stroke="#1b4d73" stroke-width="0.8" opacity="0.9"/>
<line x1="436.94" y1="93.00" x2="439.34" y2="93.00" stroke="#1b4d73" stroke-width="0.8" opacity="0.9"/>
<line x1="464.18" y1="84.10" x2="464.18" y2="90.10" stroke="#1b4d73" stroke-width="0.75" opacity="0.9"/>
<line x1="462.98" y1="84.10" x2="465.38" y2="84.10" stroke="#1b4d73" stroke-width="0.8" opacity="0.9"/>
<line x1="462.98" y1="90.10" x2="465.38" y2="90.10" stroke="#1b4d73" stroke-width="0.8" opacity="0.9"/>
<line x1="281.90" y1="97.50" x2="281.90" y2="99.10" stroke="#3f1c52" stroke-width="0.75" opacity="0.9"/>
<line x1="280.70" y1="97.50" x2="283.10" y2="97.50" stroke="#3f1c52" stroke-width="0.8" opacity="0.9"/>
<line x1="280.70" y1="99.10" x2="283.10" y2="99.10" stroke="#3f1c52" stroke-width="0.8" opacity="0.9"/>
<line x1="290.58" y1="94.10" x2="290.58" y2="100.70" stroke="#3f1c52" stroke-width="0.75" opacity="0.9"/>
<line x1="289.38" y1="94.10" x2="291.78" y2="94.10" stroke="#3f1c52" stroke-width="0.8" opacity="0.9"/>
<line x1="289.38" y1="100.70" x2="291.78" y2="100.70" stroke="#3f1c52" stroke-width="0.8" opacity="0.9"/>
<line x1="307.94" y1="96.00" x2="307.94" y2="99.00" stroke="#3f1c52" stroke-width="0.75" opacity="0.9"/>
<line x1="306.74" y1="96.00" x2="309.14" y2="96.00" stroke="#3f1c52" stroke-width="0.8" opacity="0.9"/>
<line x1="306.74" y1="99.00" x2="309.14" y2="99.00" stroke="#3f1c52" stroke-width="0.8" opacity="0.9"/>
<line x1="333.98" y1="96.00" x2="333.98" y2="99.00" stroke="#3f1c52" stroke-width="0.75" opacity="0.9"/>
<line x1="332.78" y1="96.00" x2="335.18" y2="96.00" stroke="#3f1c52" stroke-width="0.8" opacity="0.9"/>
<line x1="332.78" y1="99.00" x2="335.18" y2="99.00" stroke="#3f1c52" stroke-width="0.8" opacity="0.9"/>
<line x1="360.02" y1="94.00" x2="360.02" y2="98.00" stroke="#3f1c52" stroke-width="0.75" opacity="0.9"/>
<line x1="358.82" y1="94.00" x2="361.22" y2="94.00" stroke="#3f1c52" stroke-width="0.8" opacity="0.9"/>
<line x1="358.82" y1="98.00" x2="361.22" y2="98.00" stroke="#3f1c52" stroke-width="0.8" opacity="0.9"/>
<line x1="386.06" y1="98.90" x2="386.06" y2="104.90" stroke="#3f1c52" stroke-width="0.75" opacity="0.9"/>
<line x1="384.86" y1="98.90" x2="387.26" y2="98.90" stroke="#3f1c52" stroke-width="0.8" opacity="0.9"/>
<line x1="384.86" y1="104.90" x2="387.26" y2="104.90" stroke="#3f1c52" stroke-width="0.8" opacity="0.9"/>
<line x1="412.10" y1="98.80" x2="412.10" y2="103.80" stroke="#3f1c52" stroke-width="0.75" opacity="0.9"/>
<line x1="410.90" y1="98.80" x2="413.30" y2="98.80" stroke="#3f1c52" stroke-width="0.8" opacity="0.9"/>
<line x1="410.90" y1="103.80" x2="413.30" y2="103.80" stroke="#3f1c52" stroke-width="0.8" opacity="0.9"/>
<line x1="438.14" y1="96.90" x2="438.14" y2="104.50" stroke="#3f1c52" stroke-width="0.75" opacity="0.9"/>
<line x1="436.94" y1="96.90" x2="439.34" y2="96.90" stroke="#3f1c52" stroke-width="0.8" opacity="0.9"/>
<line x1="436.94" y1="104.50" x2="439.34" y2="104.50" stroke="#3f1c52" stroke-width="0.8" opacity="0.9"/>
<line x1="464.18" y1="99.80" x2="464.18" y2="113.60" stroke="#3f1c52" stroke-width="0.75" opacity="0.9"/>
<line x1="462.98" y1="99.80" x2="465.38" y2="99.80" stroke="#3f1c52" stroke-width="0.8" opacity="0.9"/>
<line x1="462.98" y1="113.60" x2="465.38" y2="113.60" stroke="#3f1c52" stroke-width="0.8" opacity="0.9"/>
<polyline points="281.90,98.30 290.58,97.70 307.94,97.10 333.98,97.00 360.02,95.60 386.06,100.40 412.10,100.40 438.14,94.10 464.18,92.60" fill="none" stroke="#e0539d" stroke-width="0.95" opacity="0.9"/>
<polyline points="281.90,98.30 290.58,101.50 307.94,90.40 333.98,89.20 360.02,86.30 386.06,85.40 412.10,84.40 438.14,82.70 464.18,81.90" fill="none" stroke="#5ec46e" stroke-width="0.95" opacity="0.9"/>
<polyline points="281.90,98.30 290.58,97.40 307.94,95.20 333.98,95.00 360.02,93.00 386.06,92.10 412.10,90.20 438.14,90.50 464.18,87.10" fill="none" stroke="#3f7fae" stroke-width="0.95" opacity="0.9"/>
<polyline points="281.90,98.30 290.58,97.40 307.94,97.50 333.98,97.50 360.02,96.00 386.06,101.90 412.10,101.30 438.14,100.70 464.18,106.70" fill="none" stroke="#5b3b6f" stroke-width="0.95" opacity="0.9"/>
<polygon points="281.90,96.20 283.90,100.00 279.90,100.00" fill="#c8236f"/>
<polygon points="290.58,95.60 292.58,99.40 288.58,99.40" fill="#c8236f"/>
<polygon points="307.94,95.00 309.94,98.80 305.94,98.80" fill="#c8236f"/>
<polygon points="333.98,94.90 335.98,98.70 331.98,98.70" fill="#c8236f"/>
<polygon points="360.02,93.50 362.02,97.30 358.02,97.30" fill="#c8236f"/>
<polygon points="386.06,98.30 388.06,102.10 384.06,102.10" fill="#c8236f"/>
<polygon points="412.10,98.30 414.10,102.10 410.10,102.10" fill="#c8236f"/>
<polygon points="438.14,92.00 440.14,95.80 436.14,95.80" fill="#c8236f"/>
<polygon points="464.18,90.50 466.18,94.30 462.18,94.30" fill="#c8236f"/>
<polygon points="281.90,100.40 283.90,96.60 279.90,96.60" fill="#36a057"/>
<polygon points="290.58,103.60 292.58,99.80 288.58,99.80" fill="#36a057"/>
<polygon points="307.94,92.50 309.94,88.70 305.94,88.70" fill="#36a057"/>
<polygon points="333.98,91.30 335.98,87.50 331.98,87.50" fill="#36a057"/>
<polygon points="360.02,88.40 362.02,84.60 358.02,84.60" fill="#36a057"/>
<polygon points="386.06,87.50 388.06,83.70 384.06,83.70" fill="#36a057"/>
<polygon points="412.10,86.50 414.10,82.70 410.10,82.70" fill="#36a057"/>
<polygon points="438.14,84.80 440.14,81.00 436.14,81.00" fill="#36a057"/>
<polygon points="464.18,84.00 466.18,80.20 462.18,80.20" fill="#36a057"/>
<circle cx="281.90" cy="98.30" r="1.7" fill="#1b4d73"/>
<circle cx="290.58" cy="97.40" r="1.7" fill="#1b4d73"/>
<circle cx="307.94" cy="95.20" r="1.7" fill="#1b4d73"/>
<circle cx="333.98" cy="95.00" r="1.7" fill="#1b4d73"/>
<circle cx="360.02" cy="93.00" r="1.7" fill="#1b4d73"/>
<circle cx="386.06" cy="92.10" r="1.7" fill="#1b4d73"/>
<circle cx="412.10" cy="90.20" r="1.7" fill="#1b4d73"/>
<circle cx="438.14" cy="90.50" r="1.7" fill="#1b4d73"/>
<circle cx="464.18" cy="87.10" r="1.7" fill="#1b4d73"/>
<rect x="280.20" y="96.60" width="3.4" height="3.4" fill="#3f1c52"/>
<rect x="288.88" y="95.70" width="3.4" height="3.4" fill="#3f1c52"/>
<rect x="306.24" y="95.80" width="3.4" height="3.4" fill="#3f1c52"/>
<rect x="332.28" y="95.80" width="3.4" height="3.4" fill="#3f1c52"/>
<rect x="358.32" y="94.30" width="3.4" height="3.4" fill="#3f1c52"/>
<rect x="384.36" y="100.20" width="3.4" height="3.4" fill="#3f1c52"/>
<rect x="410.40" y="99.60" width="3.4" height="3.4" fill="#3f1c52"/>
<rect x="436.44" y="99.00" width="3.4" height="3.4" fill="#3f1c52"/>
<rect x="462.48" y="105.00" width="3.4" height="3.4" fill="#3f1c52"/>
<text x="469.38" y="85.60" font-size="6.0" text-anchor="start" fill="#36a057" font-weight="normal" stroke="#36a057" stroke-width="0.1" >ns</text>
<text x="469.38" y="93.30" font-size="6.0" text-anchor="start" fill="#c8236f" font-weight="normal" stroke="#c8236f" stroke-width="0.1" >ns</text>
<text x="469.38" y="108.00" font-size="6.0" text-anchor="start" fill="#222" font-weight="normal" stroke="#222" stroke-width="0.1" >*</text>
<line x1="472.20" y1="34.60" x2="480.20" y2="34.60" stroke="#3f7fae" stroke-width="1.1" />
<circle cx="476.20" cy="34.60" r="1.8" fill="#1b4d73"/>
<text x="484.00" y="36.80" font-size="6.1" text-anchor="start" fill="#1a1a1a" font-weight="normal" stroke="#1a1a1a" stroke-width="0.1" >Control</text>
<line x1="472.20" y1="44.50" x2="480.20" y2="44.50" stroke="#5b3b6f" stroke-width="1.1" />
<rect x="474.40" y="42.70" width="3.6" height="3.6" fill="#3f1c52"/>
<text x="484.00" y="46.70" font-size="6.1" text-anchor="start" fill="#1a1a1a" font-weight="normal" stroke="#1a1a1a" stroke-width="0.1" >RTM+DOX</text>
<line x1="472.20" y1="54.50" x2="480.20" y2="54.50" stroke="#e0539d" stroke-width="1.1" />
<polygon points="476.20,52.30 478.30,56.30 474.10,56.30" fill="#c8236f"/>
<text x="484.00" y="56.70" font-size="6.1" text-anchor="start" fill="#1a1a1a" font-weight="normal" stroke="#1a1a1a" stroke-width="0.1" >RTM-TDN</text>
<line x1="472.20" y1="64.40" x2="480.20" y2="64.40" stroke="#5ec46e" stroke-width="1.1" />
<polygon points="476.20,66.60 478.30,62.60 474.10,62.60" fill="#36a057"/>
<text x="484.00" y="66.60" font-size="6.1" text-anchor="start" fill="#1a1a1a" font-weight="normal" stroke="#1a1a1a" stroke-width="0.1" >RTD</text>
<line x1="63.50" y1="212.30" x2="201.00" y2="212.30" stroke="#222" stroke-width="1.0" />
<text x="132.25" y="208.10" font-size="8.3" text-anchor="middle" fill="#111" font-weight="normal" stroke="#111" stroke-width="0.1" >SU-DHL-4</text>
<text x="97.25" y="221.00" font-size="6.0" text-anchor="middle" fill="#1a1a1a" font-weight="normal" stroke="#1a1a1a" stroke-width="0.1" >Heart</text>
<text x="166.00" y="221.00" font-size="6.0" text-anchor="middle" fill="#1a1a1a" font-weight="normal" stroke="#1a1a1a" stroke-width="0.1" >Liver</text>
<text x="0" y="0" font-size="6.0" fill="#1a1a1a" stroke="#1a1a1a" stroke-width="0.1" text-anchor="middle" transform="translate(59.10,244.50) rotate(-90)">Control</text>
<text x="0" y="0" font-size="6.0" fill="#1a1a1a" stroke="#1a1a1a" stroke-width="0.1" text-anchor="middle" transform="translate(59.10,287.10) rotate(-90)">RTM+DOX</text>
<text x="0" y="0" font-size="6.0" fill="#1a1a1a" stroke="#1a1a1a" stroke-width="0.1" text-anchor="middle" transform="translate(59.10,328.20) rotate(-90)">RTM-TDN</text>
<text x="0" y="0" font-size="6.0" fill="#1a1a1a" stroke="#1a1a1a" stroke-width="0.1" text-anchor="middle" transform="translate(59.10,369.10) rotate(-90)">RTD</text>
<clipPath id="cpCh0"><rect x="63.00" y="225.00" width="68.50" height="41.40"/></clipPath>
<g clip-path="url(#cpCh0)">
<rect x="63.00" y="225.00" width="68.50" height="41.40" fill="#e45d9d"/>
<rect x="63.00" y="225.00" width="68.50" height="41.40" filter="url(#hd0)" opacity="0.24"/>
<rect x="63.00" y="225.00" width="68.50" height="41.40" filter="url(#hl0)" opacity="0.2"/>
<rect x="63.00" y="225.00" width="68.50" height="41.40" filter="url(#hn0)" opacity="0.35"/>
</g>
<rect x="64.00" y="263.00" width="11" height="2.0" fill="#1a0612"/>
<clipPath id="cpCl0"><rect x="131.50" y="225.00" width="69.00" height="41.40"/></clipPath>
<g clip-path="url(#cpCl0)">
<rect x="131.50" y="225.00" width="69.00" height="41.40" fill="#c456a5"/>
<rect x="131.50" y="225.00" width="69.00" height="41.40" filter="url(#ld3)" opacity="0.45"/>
<rect x="131.50" y="225.00" width="69.00" height="41.40" filter="url(#ll3)" opacity="0.22"/>
<ellipse cx="159.80" cy="243.80" rx="2.75" ry="3.25" fill="#fbf1f7" transform="rotate(0 159.80 243.80)"/>
<ellipse cx="194.00" cy="236.00" rx="0.75" ry="0.75" fill="#fbf1f7" transform="rotate(0 194.00 236.00)"/>
</g>
<rect x="132.50" y="263.00" width="11" height="2.0" fill="#1a0612"/>
<clipPath id="cpCh1"><rect x="63.00" y="266.40" width="68.50" height="41.40"/></clipPath>
<g clip-path="url(#cpCh1)">
<rect x="63.00" y="266.40" width="68.50" height="41.40" fill="#df73af"/>
<rect x="63.00" y="266.40" width="68.50" height="41.40" filter="url(#hd2)" opacity="0.24"/>
<rect x="63.00" y="266.40" width="68.50" height="41.40" filter="url(#hl2)" opacity="0.2"/>
<rect x="63.00" y="266.40" width="68.50" height="41.40" filter="url(#hn2)" opacity="0.35"/>
</g>
<rect x="64.00" y="304.40" width="11" height="2.0" fill="#1a0612"/>
<clipPath id="cpCl1"><rect x="131.50" y="266.40" width="69.00" height="41.40"/></clipPath>
<g clip-path="url(#cpCl1)">
<rect x="131.50" y="266.40" width="69.00" height="41.40" fill="#c278b6"/>
<rect x="131.50" y="266.40" width="69.00" height="41.40" filter="url(#ld0)" opacity="0.45"/>
<rect x="131.50" y="266.40" width="69.00" height="41.40" filter="url(#ll0)" opacity="0.22"/>
<ellipse cx="168.00" cy="268.90" rx="2.25" ry="4.50" fill="#ea4a7e" opacity="0.8" transform="rotate(0 168.00 268.90)"/>
<ellipse cx="165.80" cy="285.40" rx="1.50" ry="1.50" fill="#e5487a" opacity="0.8" transform="rotate(0 165.80 285.40)"/>
</g>
<rect x="132.50" y="304.40" width="11" height="2.0" fill="#1a0612"/>
<clipPath id="cpCh2"><rect x="63.00" y="307.80" width="68.50" height="41.40"/></clipPath>
<g clip-path="url(#cpCh2)">
<rect x="63.00" y="307.80" width="68.50" height="41.40" fill="#e2549e"/>
<rect x="63.00" y="307.80" width="68.50" height="41.40" filter="url(#hd0)" opacity="0.24"/>
<rect x="63.00" y="307.80" width="68.50" height="41.40" filter="url(#hl0)" opacity="0.2"/>
<rect x="63.00" y="307.80" width="68.50" height="41.40" filter="url(#hn0)" opacity="0.35"/>
</g>
<rect x="64.00" y="345.80" width="11" height="2.0" fill="#1a0612"/>
<clipPath id="cpCl2"><rect x="131.50" y="307.80" width="69.00" height="41.40"/></clipPath>
<g clip-path="url(#cpCl2)">
<rect x="131.50" y="307.80" width="69.00" height="41.40" fill="#bb51a1"/>
<rect x="131.50" y="307.80" width="69.00" height="41.40" filter="url(#ld1)" opacity="0.45"/>
<rect x="131.50" y="307.80" width="69.00" height="41.40" filter="url(#ll1)" opacity="0.22"/>
<ellipse cx="156.10" cy="316.10" rx="2.25" ry="2.25" fill="#fbf1f7" transform="rotate(0 156.10 316.10)"/>
<ellipse cx="161.40" cy="319.60" rx="1.50" ry="1.75" fill="#fbf1f7" transform="rotate(0 161.40 319.60)"/>
<ellipse cx="163.50" cy="324.80" rx="0.60" ry="0.60" fill="#fbf1f7" transform="rotate(0 163.50 324.80)"/>
<ellipse cx="165.50" cy="330.80" rx="0.60" ry="0.60" fill="#fbf1f7" transform="rotate(0 165.50 330.80)"/>
<ellipse cx="167.50" cy="335.80" rx="0.75" ry="0.75" fill="#fbf1f7" transform="rotate(0 167.50 335.80)"/>
<path d="M165.8,350 L169.2,342.2 Q171,340.6 172.8,342 L177,350 Z" fill="#fbf1f7"/>
</g>
<rect x="132.50" y="345.80" width="11" height="2.0" fill="#1a0612"/>
<clipPath id="cpCh3"><rect x="63.00" y="349.20" width="68.50" height="41.40"/></clipPath>
<g clip-path="url(#cpCh3)">
<rect x="63.00" y="349.20" width="68.50" height="41.40" fill="#e25da2"/>
<rect x="63.00" y="349.20" width="68.50" height="41.40" filter="url(#hd2)" opacity="0.24"/>
<rect x="63.00" y="349.20" width="68.50" height="41.40" filter="url(#hl2)" opacity="0.2"/>
<rect x="63.00" y="349.20" width="68.50" height="41.40" filter="url(#hn2)" opacity="0.35"/>
</g>
<rect x="64.00" y="387.20" width="11" height="2.0" fill="#1a0612"/>
<clipPath id="cpCl3"><rect x="131.50" y="349.20" width="69.00" height="41.40"/></clipPath>
<g clip-path="url(#cpCl3)">
<rect x="131.50" y="349.20" width="69.00" height="41.40" fill="#c25ca5"/>
<rect x="131.50" y="349.20" width="69.00" height="41.40" filter="url(#ld2)" opacity="0.45"/>
<rect x="131.50" y="349.20" width="69.00" height="41.40" filter="url(#ll2)" opacity="0.22"/>
<ellipse cx="154.70" cy="365.70" rx="1.25" ry="1.25" fill="#fbf1f7" transform="rotate(0 154.70 365.70)"/>
<ellipse cx="177.20" cy="373.00" rx="1.25" ry="1.25" fill="#fbf1f7" transform="rotate(0 177.20 373.00)"/>
<path d="M157.5,366.2 Q160,364.6 164,365 Q169.5,364.2 173.5,366 Q176,368.5 175.6,371.5 Q171,372.6 166,371.8 Q160,371.5 157.8,369.4 Q156.6,367.6 157.5,366.2 Z" fill="#fbf1f7"/>
<path d="M194,349 L200.6,349 L200.6,355.5 Q197.5,352 194,349 Z" fill="#fbf1f7"/>
</g>
<rect x="132.50" y="387.20" width="11" height="2.0" fill="#1a0612"/>
<rect x="63.00" y="225.00" width="137.50" height="165.60" fill="none" stroke="#3a1030" stroke-width="0.9"/>
<line x1="131.50" y1="225.00" x2="131.50" y2="390.60" stroke="#3a1030" stroke-width="1.0" />
<line x1="63.00" y1="266.40" x2="200.50" y2="266.40" stroke="#3a1030" stroke-width="0.9" />
<line x1="63.00" y1="307.80" x2="200.50" y2="307.80" stroke="#3a1030" stroke-width="0.9" />
<line x1="63.00" y1="349.20" x2="200.50" y2="349.20" stroke="#3a1030" stroke-width="0.9" />
<line x1="274.70" y1="212.30" x2="414.50" y2="212.30" stroke="#222" stroke-width="1.0" />
<text x="344.60" y="208.10" font-size="8.3" text-anchor="middle" fill="#111" font-weight="normal" stroke="#111" stroke-width="0.1" >U2932</text>
<text x="309.20" y="221.00" font-size="6.0" text-anchor="middle" fill="#1a1a1a" font-weight="normal" stroke="#1a1a1a" stroke-width="0.1" >Heart</text>
<text x="379.10" y="221.00" font-size="6.0" text-anchor="middle" fill="#1a1a1a" font-weight="normal" stroke="#1a1a1a" stroke-width="0.1" >Liver</text>
<text x="0" y="0" font-size="6.0" fill="#1a1a1a" stroke="#1a1a1a" stroke-width="0.1" text-anchor="middle" transform="translate(270.30,244.50) rotate(-90)">Control</text>
<text x="0" y="0" font-size="6.0" fill="#1a1a1a" stroke="#1a1a1a" stroke-width="0.1" text-anchor="middle" transform="translate(270.30,287.10) rotate(-90)">RTM+DOX</text>
<text x="0" y="0" font-size="6.0" fill="#1a1a1a" stroke="#1a1a1a" stroke-width="0.1" text-anchor="middle" transform="translate(270.30,328.20) rotate(-90)">RTM-TDN</text>
<text x="0" y="0" font-size="6.0" fill="#1a1a1a" stroke="#1a1a1a" stroke-width="0.1" text-anchor="middle" transform="translate(270.30,369.10) rotate(-90)">RTD</text>
<clipPath id="cpDh0"><rect x="274.20" y="225.00" width="70.00" height="41.40"/></clipPath>
<g clip-path="url(#cpDh0)">
<rect x="274.20" y="225.00" width="70.00" height="41.40" fill="#e25ea0"/>
<rect x="274.20" y="225.00" width="70.00" height="41.40" filter="url(#hd1)" opacity="0.24"/>
<rect x="274.20" y="225.00" width="70.00" height="41.40" filter="url(#hl1)" opacity="0.14"/>
<rect x="274.20" y="225.00" width="70.00" height="41.40" filter="url(#hn1)" opacity="0.35"/>
</g>
<rect x="275.20" y="263.00" width="11" height="2.0" fill="#1a0612"/>
<clipPath id="cpDl0"><rect x="344.20" y="225.00" width="69.80" height="41.40"/></clipPath>
<g clip-path="url(#cpDl0)">
<rect x="344.20" y="225.00" width="69.80" height="41.40" fill="#c35da9"/>
<rect x="344.20" y="225.00" width="69.80" height="41.40" filter="url(#ld0)" opacity="0.45"/>
<rect x="344.20" y="225.00" width="69.80" height="41.40" filter="url(#ll0)" opacity="0.3"/>
<ellipse cx="361.20" cy="247.90" rx="3.10" ry="1.20" fill="#fbf1f7" transform="rotate(-38 361.20 247.90)"/>
</g>
<rect x="345.20" y="263.00" width="11" height="2.0" fill="#1a0612"/>
<clipPath id="cpDh1"><rect x="274.20" y="266.40" width="70.00" height="41.40"/></clipPath>
<g clip-path="url(#cpDh1)">
<rect x="274.20" y="266.40" width="70.00" height="41.40" fill="#dd76b0"/>
<rect x="274.20" y="266.40" width="70.00" height="41.40" filter="url(#hd3)" opacity="0.24"/>
<rect x="274.20" y="266.40" width="70.00" height="41.40" filter="url(#hl3)" opacity="0.14"/>
<rect x="274.20" y="266.40" width="70.00" height="41.40" filter="url(#hn3)" opacity="0.35"/>
</g>
<rect x="275.20" y="304.40" width="11" height="2.0" fill="#1a0612"/>
<clipPath id="cpDl1"><rect x="344.20" y="266.40" width="69.80" height="41.40"/></clipPath>
<g clip-path="url(#cpDl1)">
<rect x="344.20" y="266.40" width="69.80" height="41.40" fill="#c078b5"/>
<rect x="344.20" y="266.40" width="69.80" height="41.40" filter="url(#ld1)" opacity="0.45"/>
<rect x="344.20" y="266.40" width="69.80" height="41.40" filter="url(#ll1)" opacity="0.22"/>
</g>
<rect x="345.20" y="304.40" width="11" height="2.0" fill="#1a0612"/>
<clipPath id="cpDh2"><rect x="274.20" y="307.80" width="70.00" height="41.40"/></clipPath>
<g clip-path="url(#cpDh2)">
<rect x="274.20" y="307.80" width="70.00" height="41.40" fill="#e258a0"/>
<rect x="274.20" y="307.80" width="70.00" height="41.40" filter="url(#hd1)" opacity="0.24"/>
<rect x="274.20" y="307.80" width="70.00" height="41.40" filter="url(#hl1)" opacity="0.14"/>
<rect x="274.20" y="307.80" width="70.00" height="41.40" filter="url(#hn1)" opacity="0.35"/>
</g>
<rect x="275.20" y="345.80" width="11" height="2.0" fill="#1a0612"/>
<clipPath id="cpDl2"><rect x="344.20" y="307.80" width="69.80" height="41.40"/></clipPath>
<g clip-path="url(#cpDl2)">
<rect x="344.20" y="307.80" width="69.80" height="41.40" fill="#c45da8"/>
<rect x="344.20" y="307.80" width="69.80" height="41.40" filter="url(#ld2)" opacity="0.45"/>
<rect x="344.20" y="307.80" width="69.80" height="41.40" filter="url(#ll2)" opacity="0.42"/>
<path d="M364.6,321.6 Q366.5,317.6 370.5,317.8 Q374.4,319.2 374,323.5 Q374.6,328.6 371.3,330.6 Q367.5,331.4 365.6,328.2 Q363.6,324.8 364.6,321.6 Z" fill="#fbf1f7"/>
<path d="M393.2,349.5 Q394.2,343.4 398.6,340.6 Q402.6,339.8 403.9,343.2 Q404.2,347 403.6,349.5 Z" fill="#fbf1f7"/>
</g>
<rect x="345.20" y="345.80" width="11" height="2.0" fill="#1a0612"/>
<clipPath id="cpDh3"><rect x="274.20" y="349.20" width="70.00" height="41.40"/></clipPath>
<g clip-path="url(#cpDh3)">
<rect x="274.20" y="349.20" width="70.00" height="41.40" fill="#e05ea1"/>
<rect x="274.20" y="349.20" width="70.00" height="41.40" filter="url(#hd3)" opacity="0.24"/>
<rect x="274.20" y="349.20" width="70.00" height="41.40" filter="url(#hl3)" opacity="0.14"/>
<rect x="274.20" y="349.20" width="70.00" height="41.40" filter="url(#hn3)" opacity="0.35"/>
</g>
<rect x="275.20" y="387.20" width="11" height="2.0" fill="#1a0612"/>
<clipPath id="cpDl3"><rect x="344.20" y="349.20" width="69.80" height="41.40"/></clipPath>
<g clip-path="url(#cpDl3)">
<rect x="344.20" y="349.20" width="69.80" height="41.40" fill="#bf5aa6"/>
<rect x="344.20" y="349.20" width="69.80" height="41.40" filter="url(#ld3)" opacity="0.45"/>
<rect x="344.20" y="349.20" width="69.80" height="41.40" filter="url(#ll3)" opacity="0.22"/>
<ellipse cx="382.50" cy="365.90" rx="4.25" ry="2.50" fill="#fbf1f7" transform="rotate(-12 382.50 365.90)"/>
</g>
<rect x="345.20" y="387.20" width="11" height="2.0" fill="#1a0612"/>
<rect x="274.20" y="225.00" width="139.80" height="165.60" fill="none" stroke="#3a1030" stroke-width="0.9"/>
<line x1="344.20" y1="225.00" x2="344.20" y2="390.60" stroke="#3a1030" stroke-width="1.0" />
<line x1="274.20" y1="266.40" x2="414.00" y2="266.40" stroke="#3a1030" stroke-width="0.9" />
<line x1="274.20" y1="307.80" x2="414.00" y2="307.80" stroke="#3a1030" stroke-width="0.9" />
<line x1="274.20" y1="349.20" x2="414.00" y2="349.20" stroke="#3a1030" stroke-width="0.9" />
<text x="136.70" y="422.10" font-size="8.4" text-anchor="middle" fill="#111" font-weight="normal" stroke="#111" stroke-width="0.1" >CK</text>
<rect x="104.60" y="481.23" width="6.8" height="19.27" fill="#7ea7cb"/>
<line x1="108.00" y1="481.23" x2="108.00" y2="478.35" stroke="#174d78" stroke-width="0.9" />
<line x1="106.50" y1="478.35" x2="109.50" y2="478.35" stroke="#174d78" stroke-width="0.9" />
<line x1="108.00" y1="481.23" x2="108.00" y2="484.11" stroke="#174d78" stroke-width="0.9" opacity="0.8"/>
<line x1="106.50" y1="484.11" x2="109.50" y2="484.11" stroke="#174d78" stroke-width="0.9" opacity="0.8"/>
<circle cx="106.50" cy="478.93" r="1.45" fill="#174d78"/>
<circle cx="108.50" cy="480.73" r="1.45" fill="#174d78"/>
<circle cx="106.00" cy="482.17" r="1.45" fill="#174d78"/>
<circle cx="109.50" cy="482.88" r="1.45" fill="#174d78"/>
<circle cx="107.50" cy="483.60" r="1.45" fill="#174d78"/>
<circle cx="110.00" cy="482.52" r="1.45" fill="#174d78"/>
<line x1="108.00" y1="500.50" x2="108.00" y2="503.10" stroke="#111" stroke-width="0.9" />
<rect x="123.45" y="454.48" width="6.8" height="46.02" fill="#a887b5"/>
<line x1="126.85" y1="454.48" x2="126.85" y2="438.67" stroke="#3a1848" stroke-width="0.9" />
<line x1="125.35" y1="438.67" x2="128.35" y2="438.67" stroke="#3a1848" stroke-width="0.9" />
<line x1="126.85" y1="454.48" x2="126.85" y2="470.30" stroke="#3a1848" stroke-width="0.9" opacity="0.8"/>
<line x1="125.35" y1="470.30" x2="128.35" y2="470.30" stroke="#3a1848" stroke-width="0.9" opacity="0.8"/>
<circle cx="126.85" cy="431.48" r="1.45" fill="#3a1848"/>
<circle cx="126.85" cy="438.67" r="1.45" fill="#3a1848"/>
<circle cx="126.85" cy="453.76" r="1.45" fill="#3a1848"/>
<circle cx="127.85" cy="458.80" r="1.45" fill="#3a1848"/>
<circle cx="125.85" cy="464.55" r="1.45" fill="#3a1848"/>
<circle cx="127.35" cy="465.99" r="1.45" fill="#3a1848"/>
<text x="126.85" y="431.10" font-size="6.4" text-anchor="middle" fill="#333" font-weight="normal" stroke="#333" stroke-width="0.1" >***</text>
<line x1="126.85" y1="500.50" x2="126.85" y2="503.10" stroke="#111" stroke-width="0.9" />
<rect x="142.30" y="477.85" width="6.8" height="22.65" fill="#f47ec1"/>
<line x1="145.70" y1="477.85" x2="145.70" y2="465.99" stroke="#cf1f7c" stroke-width="0.9" />
<line x1="144.20" y1="465.99" x2="147.20" y2="465.99" stroke="#cf1f7c" stroke-width="0.9" />
<line x1="145.70" y1="477.85" x2="145.70" y2="489.72" stroke="#cf1f7c" stroke-width="0.9" opacity="0.8"/>
<line x1="144.20" y1="489.72" x2="147.20" y2="489.72" stroke="#cf1f7c" stroke-width="0.9" opacity="0.8"/>
<circle cx="145.70" cy="457.36" r="1.45" fill="#cf1f7c"/>
<circle cx="147.20" cy="473.18" r="1.45" fill="#cf1f7c"/>
<circle cx="144.20" cy="477.49" r="1.45" fill="#cf1f7c"/>
<circle cx="145.70" cy="480.37" r="1.45" fill="#cf1f7c"/>
<circle cx="147.20" cy="483.96" r="1.45" fill="#cf1f7c"/>
<circle cx="144.70" cy="486.12" r="1.45" fill="#cf1f7c"/>
<text x="145.70" y="454.30" font-size="6.4" text-anchor="middle" fill="#333" font-weight="normal" stroke="#333" stroke-width="0.1" >ns</text>
<line x1="145.70" y1="500.50" x2="145.70" y2="503.10" stroke="#111" stroke-width="0.9" />
<rect x="161.15" y="475.34" width="6.8" height="25.16" fill="#93d59b"/>
<line x1="164.55" y1="475.34" x2="164.55" y2="468.86" stroke="#25903f" stroke-width="0.9" />
<line x1="163.05" y1="468.86" x2="166.05" y2="468.86" stroke="#25903f" stroke-width="0.9" />
<line x1="164.55" y1="475.34" x2="164.55" y2="481.81" stroke="#25903f" stroke-width="0.9" opacity="0.8"/>
<line x1="163.05" y1="481.81" x2="166.05" y2="481.81" stroke="#25903f" stroke-width="0.9" opacity="0.8"/>
<circle cx="164.55" cy="466.71" r="1.45" fill="#25903f"/>
<circle cx="163.05" cy="471.74" r="1.45" fill="#25903f"/>
<circle cx="166.05" cy="473.90" r="1.45" fill="#25903f"/>
<circle cx="164.55" cy="478.93" r="1.45" fill="#25903f"/>
<circle cx="163.05" cy="482.52" r="1.45" fill="#25903f"/>
<circle cx="166.05" cy="483.24" r="1.45" fill="#25903f"/>
<text x="164.55" y="464.60" font-size="6.4" text-anchor="middle" fill="#333" font-weight="normal" stroke="#333" stroke-width="0.1" >ns</text>
<line x1="164.55" y1="500.50" x2="164.55" y2="503.10" stroke="#111" stroke-width="0.9" />
<line x1="100.30" y1="427.10" x2="100.30" y2="501.00" stroke="#111" stroke-width="1.1" />
<line x1="99.80" y1="500.50" x2="172.90" y2="500.50" stroke="#111" stroke-width="1.1" />
<line x1="97.70" y1="500.50" x2="100.30" y2="500.50" stroke="#111" stroke-width="0.9" />
<text x="94.80" y="502.70" font-size="6.2" text-anchor="end" fill="#222" font-weight="normal" stroke="#222" stroke-width="0.1" >0</text>
<line x1="97.70" y1="486.12" x2="100.30" y2="486.12" stroke="#111" stroke-width="0.9" />
<text x="94.80" y="488.32" font-size="6.2" text-anchor="end" fill="#222" font-weight="normal" stroke="#222" stroke-width="0.1" >200</text>
<line x1="97.70" y1="471.74" x2="100.30" y2="471.74" stroke="#111" stroke-width="0.9" />
<text x="94.80" y="473.94" font-size="6.2" text-anchor="end" fill="#222" font-weight="normal" stroke="#222" stroke-width="0.1" >400</text>
<line x1="97.70" y1="457.36" x2="100.30" y2="457.36" stroke="#111" stroke-width="0.9" />
<text x="94.80" y="459.56" font-size="6.2" text-anchor="end" fill="#222" font-weight="normal" stroke="#222" stroke-width="0.1" >600</text>
<line x1="97.70" y1="442.98" x2="100.30" y2="442.98" stroke="#111" stroke-width="0.9" />
<text x="94.80" y="445.18" font-size="6.2" text-anchor="end" fill="#222" font-weight="normal" stroke="#222" stroke-width="0.1" >800</text>
<line x1="97.70" y1="428.60" x2="100.30" y2="428.60" stroke="#111" stroke-width="0.9" />
<text x="94.80" y="430.80" font-size="6.2" text-anchor="end" fill="#222" font-weight="normal" stroke="#222" stroke-width="0.1" >1000</text>
<text x="0" y="0" font-size="7.4" fill="#111" stroke="#111" stroke-width="0.1" text-anchor="middle" transform="translate(74.82,461.75) rotate(-90)">U/L</text>
<text x="247.20" y="422.10" font-size="8.4" text-anchor="middle" fill="#111" font-weight="normal" stroke="#111" stroke-width="0.1" >ALT</text>
<rect x="215.00" y="473.90" width="6.8" height="26.60" fill="#7ea7cb"/>
<line x1="218.40" y1="473.90" x2="218.40" y2="468.86" stroke="#174d78" stroke-width="0.9" />
<line x1="216.90" y1="468.86" x2="219.90" y2="468.86" stroke="#174d78" stroke-width="0.9" />
<line x1="218.40" y1="473.90" x2="218.40" y2="478.93" stroke="#174d78" stroke-width="0.9" opacity="0.8"/>
<line x1="216.90" y1="478.93" x2="219.90" y2="478.93" stroke="#174d78" stroke-width="0.9" opacity="0.8"/>
<circle cx="216.90" cy="467.43" r="1.45" fill="#174d78"/>
<circle cx="219.90" cy="468.14" r="1.45" fill="#174d78"/>
<circle cx="217.40" cy="470.30" r="1.45" fill="#174d78"/>
<circle cx="219.90" cy="475.34" r="1.45" fill="#174d78"/>
<circle cx="216.90" cy="473.18" r="1.45" fill="#174d78"/>
<circle cx="218.40" cy="481.81" r="1.45" fill="#174d78"/>
<line x1="218.40" y1="500.50" x2="218.40" y2="503.10" stroke="#111" stroke-width="0.9" />
<rect x="234.30" y="446.93" width="6.8" height="53.57" fill="#a887b5"/>
<line x1="237.70" y1="446.93" x2="237.70" y2="438.31" stroke="#3a1848" stroke-width="0.9" />
<line x1="236.20" y1="438.31" x2="239.20" y2="438.31" stroke="#3a1848" stroke-width="0.9" />
<line x1="237.70" y1="446.93" x2="237.70" y2="455.56" stroke="#3a1848" stroke-width="0.9" opacity="0.8"/>
<line x1="236.20" y1="455.56" x2="239.20" y2="455.56" stroke="#3a1848" stroke-width="0.9" opacity="0.8"/>
<circle cx="237.70" cy="431.84" r="1.45" fill="#3a1848"/>
<circle cx="237.70" cy="441.54" r="1.45" fill="#3a1848"/>
<circle cx="239.20" cy="444.78" r="1.45" fill="#3a1848"/>
<circle cx="235.70" cy="448.01" r="1.45" fill="#3a1848"/>
<circle cx="239.70" cy="448.01" r="1.45" fill="#3a1848"/>
<circle cx="237.70" cy="459.52" r="1.45" fill="#3a1848"/>
<text x="237.70" y="431.10" font-size="6.4" text-anchor="middle" fill="#333" font-weight="normal" stroke="#333" stroke-width="0.1" >****</text>
<line x1="237.70" y1="500.50" x2="237.70" y2="503.10" stroke="#111" stroke-width="0.9" />
<rect x="253.60" y="471.74" width="6.8" height="28.76" fill="#f47ec1"/>
<line x1="257.00" y1="471.74" x2="257.00" y2="461.67" stroke="#cf1f7c" stroke-width="0.9" />
<line x1="255.50" y1="461.67" x2="258.50" y2="461.67" stroke="#cf1f7c" stroke-width="0.9" />
<line x1="257.00" y1="471.74" x2="257.00" y2="481.81" stroke="#cf1f7c" stroke-width="0.9" opacity="0.8"/>
<line x1="255.50" y1="481.81" x2="258.50" y2="481.81" stroke="#cf1f7c" stroke-width="0.9" opacity="0.8"/>
<circle cx="257.00" cy="457.36" r="1.45" fill="#cf1f7c"/>
<circle cx="257.00" cy="461.67" r="1.45" fill="#cf1f7c"/>
<circle cx="258.00" cy="468.14" r="1.45" fill="#cf1f7c"/>
<circle cx="255.50" cy="478.93" r="1.45" fill="#cf1f7c"/>
<circle cx="258.50" cy="476.77" r="1.45" fill="#cf1f7c"/>
<circle cx="257.00" cy="481.09" r="1.45" fill="#cf1f7c"/>
<text x="257.00" y="454.30" font-size="6.4" text-anchor="middle" fill="#333" font-weight="normal" stroke="#333" stroke-width="0.1" >ns</text>
<line x1="257.00" y1="500.50" x2="257.00" y2="503.10" stroke="#111" stroke-width="0.9" />
<rect x="272.90" y="471.38" width="6.8" height="29.12" fill="#93d59b"/>
<line x1="276.30" y1="471.38" x2="276.30" y2="465.63" stroke="#25903f" stroke-width="0.9" />
<line x1="274.80" y1="465.63" x2="277.80" y2="465.63" stroke="#25903f" stroke-width="0.9" />
<line x1="276.30" y1="471.38" x2="276.30" y2="477.13" stroke="#25903f" stroke-width="0.9" opacity="0.8"/>
<line x1="274.80" y1="477.13" x2="277.80" y2="477.13" stroke="#25903f" stroke-width="0.9" opacity="0.8"/>
<circle cx="276.30" cy="464.55" r="1.45" fill="#25903f"/>
<circle cx="274.80" cy="467.43" r="1.45" fill="#25903f"/>
<circle cx="277.80" cy="471.74" r="1.45" fill="#25903f"/>
<circle cx="276.30" cy="474.62" r="1.45" fill="#25903f"/>
<circle cx="274.80" cy="475.34" r="1.45" fill="#25903f"/>
<circle cx="277.80" cy="473.18" r="1.45" fill="#25903f"/>
<text x="276.30" y="461.30" font-size="6.4" text-anchor="middle" fill="#333" font-weight="normal" stroke="#333" stroke-width="0.1" >ns</text>
<line x1="276.30" y1="500.50" x2="276.30" y2="503.10" stroke="#111" stroke-width="0.9" />
<line x1="210.20" y1="427.10" x2="210.20" y2="501.00" stroke="#111" stroke-width="1.1" />
<line x1="209.70" y1="500.50" x2="284.20" y2="500.50" stroke="#111" stroke-width="1.1" />
<line x1="207.60" y1="500.50" x2="210.20" y2="500.50" stroke="#111" stroke-width="0.9" />
<text x="204.70" y="502.70" font-size="6.2" text-anchor="end" fill="#222" font-weight="normal" stroke="#222" stroke-width="0.1" >0</text>
<line x1="207.60" y1="486.12" x2="210.20" y2="486.12" stroke="#111" stroke-width="0.9" />
<text x="204.70" y="488.32" font-size="6.2" text-anchor="end" fill="#222" font-weight="normal" stroke="#222" stroke-width="0.1" >20</text>
<line x1="207.60" y1="471.74" x2="210.20" y2="471.74" stroke="#111" stroke-width="0.9" />
<text x="204.70" y="473.94" font-size="6.2" text-anchor="end" fill="#222" font-weight="normal" stroke="#222" stroke-width="0.1" >40</text>
<line x1="207.60" y1="457.36" x2="210.20" y2="457.36" stroke="#111" stroke-width="0.9" />
<text x="204.70" y="459.56" font-size="6.2" text-anchor="end" fill="#222" font-weight="normal" stroke="#222" stroke-width="0.1" >60</text>
<line x1="207.60" y1="442.98" x2="210.20" y2="442.98" stroke="#111" stroke-width="0.9" />
<text x="204.70" y="445.18" font-size="6.2" text-anchor="end" fill="#222" font-weight="normal" stroke="#222" stroke-width="0.1" >80</text>
<line x1="207.60" y1="428.60" x2="210.20" y2="428.60" stroke="#111" stroke-width="0.9" />
<text x="204.70" y="430.80" font-size="6.2" text-anchor="end" fill="#222" font-weight="normal" stroke="#222" stroke-width="0.1" >100</text>
<text x="0" y="0" font-size="7.4" fill="#111" stroke="#111" stroke-width="0.1" text-anchor="middle" transform="translate(188.89,461.75) rotate(-90)">U/L</text>
<text x="358.90" y="422.10" font-size="8.4" text-anchor="middle" fill="#111" font-weight="normal" stroke="#111" stroke-width="0.1" >AST</text>
<rect x="327.00" y="469.44" width="6.8" height="31.06" fill="#7ea7cb"/>
<line x1="330.40" y1="469.44" x2="330.40" y2="463.69" stroke="#174d78" stroke-width="0.9" />
<line x1="328.90" y1="463.69" x2="331.90" y2="463.69" stroke="#174d78" stroke-width="0.9" />
<line x1="330.40" y1="469.44" x2="330.40" y2="475.19" stroke="#174d78" stroke-width="0.9" opacity="0.8"/>
<line x1="328.90" y1="475.19" x2="331.90" y2="475.19" stroke="#174d78" stroke-width="0.9" opacity="0.8"/>
<circle cx="330.40" cy="461.67" r="1.45" fill="#174d78"/>
<circle cx="329.40" cy="466.56" r="1.45" fill="#174d78"/>
<circle cx="331.90" cy="470.30" r="1.45" fill="#174d78"/>
<circle cx="328.90" cy="472.32" r="1.45" fill="#174d78"/>
<circle cx="330.40" cy="474.04" r="1.45" fill="#174d78"/>
<circle cx="331.90" cy="473.18" r="1.45" fill="#174d78"/>
<line x1="330.40" y1="500.50" x2="330.40" y2="503.10" stroke="#111" stroke-width="0.9" />
<rect x="346.25" y="444.13" width="6.8" height="56.37" fill="#a887b5"/>
<line x1="349.65" y1="444.13" x2="349.65" y2="435.50" stroke="#3a1848" stroke-width="0.9" />
<line x1="348.15" y1="435.50" x2="351.15" y2="435.50" stroke="#3a1848" stroke-width="0.9" />
<line x1="349.65" y1="444.13" x2="349.65" y2="452.76" stroke="#3a1848" stroke-width="0.9" opacity="0.8"/>
<line x1="348.15" y1="452.76" x2="351.15" y2="452.76" stroke="#3a1848" stroke-width="0.9" opacity="0.8"/>
<circle cx="349.65" cy="432.91" r="1.45" fill="#3a1848"/>
<circle cx="347.65" cy="438.95" r="1.45" fill="#3a1848"/>
<circle cx="351.65" cy="438.95" r="1.45" fill="#3a1848"/>
<circle cx="349.65" cy="449.31" r="1.45" fill="#3a1848"/>
<circle cx="350.15" cy="454.48" r="1.45" fill="#3a1848"/>
<circle cx="349.65" cy="459.95" r="1.45" fill="#3a1848"/>
<text x="349.65" y="432.40" font-size="6.4" text-anchor="middle" fill="#333" font-weight="normal" stroke="#333" stroke-width="0.1" >****</text>
<line x1="349.65" y1="500.50" x2="349.65" y2="503.10" stroke="#111" stroke-width="0.9" />
<rect x="365.50" y="468.00" width="6.8" height="32.50" fill="#f47ec1"/>
<line x1="368.90" y1="468.00" x2="368.90" y2="460.81" stroke="#cf1f7c" stroke-width="0.9" />
<line x1="367.40" y1="460.81" x2="370.40" y2="460.81" stroke="#cf1f7c" stroke-width="0.9" />
<line x1="368.90" y1="468.00" x2="368.90" y2="475.19" stroke="#cf1f7c" stroke-width="0.9" opacity="0.8"/>
<line x1="367.40" y1="475.19" x2="370.40" y2="475.19" stroke="#cf1f7c" stroke-width="0.9" opacity="0.8"/>
<circle cx="368.90" cy="454.48" r="1.45" fill="#cf1f7c"/>
<circle cx="368.90" cy="463.11" r="1.45" fill="#cf1f7c"/>
<circle cx="367.40" cy="468.29" r="1.45" fill="#cf1f7c"/>
<circle cx="370.40" cy="470.30" r="1.45" fill="#cf1f7c"/>
<circle cx="368.90" cy="471.74" r="1.45" fill="#cf1f7c"/>
<circle cx="367.90" cy="472.32" r="1.45" fill="#cf1f7c"/>
<text x="368.90" y="452.10" font-size="6.4" text-anchor="middle" fill="#333" font-weight="normal" stroke="#333" stroke-width="0.1" >ns</text>
<line x1="368.90" y1="500.50" x2="368.90" y2="503.10" stroke="#111" stroke-width="0.9" />
<rect x="384.75" y="461.96" width="6.8" height="38.54" fill="#93d59b"/>
<line x1="388.15" y1="461.96" x2="388.15" y2="452.18" stroke="#25903f" stroke-width="0.9" />
<line x1="386.65" y1="452.18" x2="389.65" y2="452.18" stroke="#25903f" stroke-width="0.9" />
<line x1="388.15" y1="461.96" x2="388.15" y2="471.74" stroke="#25903f" stroke-width="0.9" opacity="0.8"/>
<line x1="386.65" y1="471.74" x2="389.65" y2="471.74" stroke="#25903f" stroke-width="0.9" opacity="0.8"/>
<circle cx="388.15" cy="446.14" r="1.45" fill="#25903f"/>
<circle cx="388.15" cy="461.96" r="1.45" fill="#25903f"/>
<circle cx="389.65" cy="466.28" r="1.45" fill="#25903f"/>
<circle cx="386.65" cy="466.85" r="1.45" fill="#25903f"/>
<circle cx="388.15" cy="471.16" r="1.45" fill="#25903f"/>
<circle cx="389.15" cy="464.55" r="1.45" fill="#25903f"/>
<text x="388.15" y="443.70" font-size="6.4" text-anchor="middle" fill="#333" font-weight="normal" stroke="#333" stroke-width="0.1" >ns</text>
<line x1="388.15" y1="500.50" x2="388.15" y2="503.10" stroke="#111" stroke-width="0.9" />
<line x1="321.90" y1="427.10" x2="321.90" y2="501.00" stroke="#111" stroke-width="1.1" />
<line x1="321.40" y1="500.50" x2="395.90" y2="500.50" stroke="#111" stroke-width="1.1" />
<line x1="319.30" y1="500.50" x2="321.90" y2="500.50" stroke="#111" stroke-width="0.9" />
<text x="316.40" y="502.70" font-size="6.2" text-anchor="end" fill="#222" font-weight="normal" stroke="#222" stroke-width="0.1" >0</text>
<line x1="319.30" y1="486.12" x2="321.90" y2="486.12" stroke="#111" stroke-width="0.9" />
<text x="316.40" y="488.32" font-size="6.2" text-anchor="end" fill="#222" font-weight="normal" stroke="#222" stroke-width="0.1" >50</text>
<line x1="319.30" y1="471.74" x2="321.90" y2="471.74" stroke="#111" stroke-width="0.9" />
<text x="316.40" y="473.94" font-size="6.2" text-anchor="end" fill="#222" font-weight="normal" stroke="#222" stroke-width="0.1" >100</text>
<line x1="319.30" y1="457.36" x2="321.90" y2="457.36" stroke="#111" stroke-width="0.9" />
<text x="316.40" y="459.56" font-size="6.2" text-anchor="end" fill="#222" font-weight="normal" stroke="#222" stroke-width="0.1" >150</text>
<line x1="319.30" y1="442.98" x2="321.90" y2="442.98" stroke="#111" stroke-width="0.9" />
<text x="316.40" y="445.18" font-size="6.2" text-anchor="end" fill="#222" font-weight="normal" stroke="#222" stroke-width="0.1" >200</text>
<line x1="319.30" y1="428.60" x2="321.90" y2="428.60" stroke="#111" stroke-width="0.9" />
<text x="316.40" y="430.80" font-size="6.2" text-anchor="end" fill="#222" font-weight="normal" stroke="#222" stroke-width="0.1" >250</text>
<text x="0" y="0" font-size="7.4" fill="#111" stroke="#111" stroke-width="0.1" text-anchor="middle" transform="translate(300.59,461.75) rotate(-90)">U/L</text>
<text x="0" y="0" font-size="8.0" fill="#111" stroke="#111" stroke-width="0.1" text-anchor="middle" transform="translate(55.4,463.0) rotate(-90)">SU-DHL-4</text>
<text x="0" y="0" font-size="8.2" fill="#111" stroke="#111" stroke-width="0.1" text-anchor="middle" transform="translate(55.6,580.0) rotate(-90)">U2932</text>
<circle cx="406.1" cy="503.5" r="2.3" fill="#1d5a88"/>
<text x="411.60" y="505.70" font-size="6.1" text-anchor="start" fill="#1a1a1a" font-weight="normal" stroke="#1a1a1a" stroke-width="0.1" >Control</text>
<circle cx="406.1" cy="512.0" r="2.3" fill="#3e1b50"/>
<text x="411.60" y="514.20" font-size="6.1" text-anchor="start" fill="#1a1a1a" font-weight="normal" stroke="#1a1a1a" stroke-width="0.1" >RTM+DOX</text>
<circle cx="406.1" cy="520.6" r="2.3" fill="#e3258d"/>
<text x="411.60" y="522.80" font-size="6.1" text-anchor="start" fill="#1a1a1a" font-weight="normal" stroke="#1a1a1a" stroke-width="0.1" >RTM-TDN</text>
<circle cx="406.1" cy="529.2" r="2.3" fill="#33a550"/>
<text x="411.60" y="531.40" font-size="6.1" text-anchor="start" fill="#1a1a1a" font-weight="normal" stroke="#1a1a1a" stroke-width="0.1" >RTD</text>
<text x="134.30" y="539.10" font-size="8.4" text-anchor="middle" fill="#111" font-weight="normal" stroke="#111" stroke-width="0.1" >CK</text>
<rect x="102.30" y="597.48" width="6.8" height="19.52" fill="#7ea7cb"/>
<line x1="105.70" y1="597.48" x2="105.70" y2="591.77" stroke="#174d78" stroke-width="0.9" />
<line x1="104.20" y1="591.77" x2="107.20" y2="591.77" stroke="#174d78" stroke-width="0.9" />
<line x1="105.70" y1="597.48" x2="105.70" y2="603.20" stroke="#174d78" stroke-width="0.9" opacity="0.8"/>
<line x1="104.20" y1="603.20" x2="107.20" y2="603.20" stroke="#174d78" stroke-width="0.9" opacity="0.8"/>
<circle cx="105.70" cy="590.34" r="1.45" fill="#174d78"/>
<circle cx="105.70" cy="592.25" r="1.45" fill="#174d78"/>
<circle cx="104.20" cy="596.06" r="1.45" fill="#174d78"/>
<circle cx="107.20" cy="597.01" r="1.45" fill="#174d78"/>
<circle cx="105.70" cy="598.91" r="1.45" fill="#174d78"/>
<circle cx="105.70" cy="601.77" r="1.45" fill="#174d78"/>
<line x1="105.70" y1="617.00" x2="105.70" y2="619.60" stroke="#111" stroke-width="0.9" />
<rect x="121.15" y="571.78" width="6.8" height="45.22" fill="#a887b5"/>
<line x1="124.55" y1="571.78" x2="124.55" y2="559.17" stroke="#3a1848" stroke-width="0.9" />
<line x1="123.05" y1="559.17" x2="126.05" y2="559.17" stroke="#3a1848" stroke-width="0.9" />
<line x1="124.55" y1="571.78" x2="124.55" y2="584.39" stroke="#3a1848" stroke-width="0.9" opacity="0.8"/>
<line x1="123.05" y1="584.39" x2="126.05" y2="584.39" stroke="#3a1848" stroke-width="0.9" opacity="0.8"/>
<circle cx="124.55" cy="556.12" r="1.45" fill="#3a1848"/>
<circle cx="125.05" cy="562.74" r="1.45" fill="#3a1848"/>
<circle cx="123.05" cy="568.31" r="1.45" fill="#3a1848"/>
<circle cx="126.05" cy="570.30" r="1.45" fill="#3a1848"/>
<circle cx="124.55" cy="581.20" r="1.45" fill="#3a1848"/>
<circle cx="124.55" cy="587.30" r="1.45" fill="#3a1848"/>
<text x="124.55" y="554.60" font-size="6.4" text-anchor="middle" fill="#333" font-weight="normal" stroke="#333" stroke-width="0.1" >****</text>
<line x1="124.55" y1="617.00" x2="124.55" y2="619.60" stroke="#111" stroke-width="0.9" />
<rect x="140.00" y="599.86" width="6.8" height="17.14" fill="#f47ec1"/>
<line x1="143.40" y1="599.86" x2="143.40" y2="595.10" stroke="#cf1f7c" stroke-width="0.9" />
<line x1="141.90" y1="595.10" x2="144.90" y2="595.10" stroke="#cf1f7c" stroke-width="0.9" />
<line x1="143.40" y1="599.86" x2="143.40" y2="604.62" stroke="#cf1f7c" stroke-width="0.9" opacity="0.8"/>
<line x1="141.90" y1="604.62" x2="144.90" y2="604.62" stroke="#cf1f7c" stroke-width="0.9" opacity="0.8"/>
<circle cx="143.40" cy="591.30" r="1.45" fill="#cf1f7c"/>
<circle cx="143.40" cy="596.06" r="1.45" fill="#cf1f7c"/>
<circle cx="144.90" cy="597.96" r="1.45" fill="#cf1f7c"/>
<circle cx="141.90" cy="599.86" r="1.45" fill="#cf1f7c"/>
<circle cx="143.40" cy="602.72" r="1.45" fill="#cf1f7c"/>
<circle cx="143.40" cy="605.58" r="1.45" fill="#cf1f7c"/>
<text x="143.40" y="586.70" font-size="6.4" text-anchor="middle" fill="#333" font-weight="normal" stroke="#333" stroke-width="0.1" >ns</text>
<line x1="143.40" y1="617.00" x2="143.40" y2="619.60" stroke="#111" stroke-width="0.9" />
<rect x="158.85" y="599.39" width="6.8" height="17.61" fill="#93d59b"/>
<line x1="162.25" y1="599.39" x2="162.25" y2="596.06" stroke="#25903f" stroke-width="0.9" />
<line x1="160.75" y1="596.06" x2="163.75" y2="596.06" stroke="#25903f" stroke-width="0.9" />
<line x1="162.25" y1="599.39" x2="162.25" y2="602.72" stroke="#25903f" stroke-width="0.9" opacity="0.8"/>
<line x1="160.75" y1="602.72" x2="163.75" y2="602.72" stroke="#25903f" stroke-width="0.9" opacity="0.8"/>
<circle cx="162.25" cy="595.58" r="1.45" fill="#25903f"/>
<circle cx="163.75" cy="597.01" r="1.45" fill="#25903f"/>
<circle cx="160.75" cy="598.91" r="1.45" fill="#25903f"/>
<circle cx="162.25" cy="600.82" r="1.45" fill="#25903f"/>
<circle cx="160.75" cy="603.20" r="1.45" fill="#25903f"/>
<circle cx="163.75" cy="602.24" r="1.45" fill="#25903f"/>
<text x="162.25" y="593.30" font-size="6.4" text-anchor="middle" fill="#333" font-weight="normal" stroke="#333" stroke-width="0.1" >ns</text>
<line x1="162.25" y1="617.00" x2="162.25" y2="619.60" stroke="#111" stroke-width="0.9" />
<line x1="97.80" y1="544.10" x2="97.80" y2="617.50" stroke="#111" stroke-width="1.1" />
<line x1="97.30" y1="617.00" x2="170.20" y2="617.00" stroke="#111" stroke-width="1.1" />
<line x1="95.20" y1="617.00" x2="97.80" y2="617.00" stroke="#111" stroke-width="0.9" />
<text x="92.30" y="619.20" font-size="6.2" text-anchor="end" fill="#222" font-weight="normal" stroke="#222" stroke-width="0.1" >0</text>
<line x1="95.20" y1="593.20" x2="97.80" y2="593.20" stroke="#111" stroke-width="0.9" />
<text x="92.30" y="595.40" font-size="6.2" text-anchor="end" fill="#222" font-weight="normal" stroke="#222" stroke-width="0.1" >500</text>
<line x1="95.20" y1="569.40" x2="97.80" y2="569.40" stroke="#111" stroke-width="0.9" />
<text x="92.30" y="571.60" font-size="6.2" text-anchor="end" fill="#222" font-weight="normal" stroke="#222" stroke-width="0.1" >1000</text>
<line x1="95.20" y1="545.60" x2="97.80" y2="545.60" stroke="#111" stroke-width="0.9" />
<text x="92.30" y="547.80" font-size="6.2" text-anchor="end" fill="#222" font-weight="normal" stroke="#222" stroke-width="0.1" >1500</text>
<text x="0" y="0" font-size="7.4" fill="#111" stroke="#111" stroke-width="0.1" text-anchor="middle" transform="translate(72.32,578.50) rotate(-90)">U/L</text>
<text x="247.70" y="539.10" font-size="8.4" text-anchor="middle" fill="#111" font-weight="normal" stroke="#111" stroke-width="0.1" >ALT</text>
<rect x="215.10" y="599.86" width="6.8" height="17.14" fill="#7ea7cb"/>
<line x1="218.50" y1="599.86" x2="218.50" y2="596.06" stroke="#174d78" stroke-width="0.9" />
<line x1="217.00" y1="596.06" x2="220.00" y2="596.06" stroke="#174d78" stroke-width="0.9" />
<line x1="218.50" y1="599.86" x2="218.50" y2="603.67" stroke="#174d78" stroke-width="0.9" opacity="0.8"/>
<line x1="217.00" y1="603.67" x2="220.00" y2="603.67" stroke="#174d78" stroke-width="0.9" opacity="0.8"/>
<circle cx="217.00" cy="595.58" r="1.45" fill="#174d78"/>
<circle cx="220.00" cy="596.06" r="1.45" fill="#174d78"/>
<circle cx="218.50" cy="598.91" r="1.45" fill="#174d78"/>
<circle cx="217.00" cy="601.77" r="1.45" fill="#174d78"/>
<circle cx="220.00" cy="602.72" r="1.45" fill="#174d78"/>
<circle cx="218.50" cy="600.82" r="1.45" fill="#174d78"/>
<line x1="218.50" y1="617.00" x2="218.50" y2="619.60" stroke="#111" stroke-width="0.9" />
<rect x="234.40" y="580.11" width="6.8" height="36.89" fill="#a887b5"/>
<line x1="237.80" y1="580.11" x2="237.80" y2="571.54" stroke="#3a1848" stroke-width="0.9" />
<line x1="236.30" y1="571.54" x2="239.30" y2="571.54" stroke="#3a1848" stroke-width="0.9" />
<line x1="237.80" y1="580.11" x2="237.80" y2="588.68" stroke="#3a1848" stroke-width="0.9" opacity="0.8"/>
<line x1="236.30" y1="588.68" x2="239.30" y2="588.68" stroke="#3a1848" stroke-width="0.9" opacity="0.8"/>
<circle cx="237.80" cy="568.45" r="1.45" fill="#3a1848"/>
<circle cx="237.80" cy="571.78" r="1.45" fill="#3a1848"/>
<circle cx="239.30" cy="575.11" r="1.45" fill="#3a1848"/>
<circle cx="236.30" cy="581.30" r="1.45" fill="#3a1848"/>
<circle cx="237.80" cy="584.63" r="1.45" fill="#3a1848"/>
<circle cx="238.80" cy="587.49" r="1.45" fill="#3a1848"/>
<text x="237.80" y="566.60" font-size="6.4" text-anchor="middle" fill="#333" font-weight="normal" stroke="#333" stroke-width="0.1" >****</text>
<line x1="237.80" y1="617.00" x2="237.80" y2="619.60" stroke="#111" stroke-width="0.9" />
<rect x="253.70" y="600.34" width="6.8" height="16.66" fill="#f47ec1"/>
<line x1="257.10" y1="600.34" x2="257.10" y2="598.44" stroke="#cf1f7c" stroke-width="0.9" />
<line x1="255.60" y1="598.44" x2="258.60" y2="598.44" stroke="#cf1f7c" stroke-width="0.9" />
<line x1="257.10" y1="600.34" x2="257.10" y2="602.24" stroke="#cf1f7c" stroke-width="0.9" opacity="0.8"/>
<line x1="255.60" y1="602.24" x2="258.60" y2="602.24" stroke="#cf1f7c" stroke-width="0.9" opacity="0.8"/>
<circle cx="255.60" cy="598.91" r="1.45" fill="#cf1f7c"/>
<circle cx="258.60" cy="599.39" r="1.45" fill="#cf1f7c"/>
<circle cx="257.10" cy="600.34" r="1.45" fill="#cf1f7c"/>
<circle cx="255.60" cy="601.77" r="1.45" fill="#cf1f7c"/>
<circle cx="258.60" cy="602.72" r="1.45" fill="#cf1f7c"/>
<circle cx="257.10" cy="601.29" r="1.45" fill="#cf1f7c"/>
<text x="257.10" y="595.90" font-size="6.4" text-anchor="middle" fill="#333" font-weight="normal" stroke="#333" stroke-width="0.1" >ns</text>
<line x1="257.10" y1="617.00" x2="257.10" y2="619.60" stroke="#111" stroke-width="0.9" />
<rect x="273.00" y="598.91" width="6.8" height="18.09" fill="#93d59b"/>
<line x1="276.40" y1="598.91" x2="276.40" y2="594.63" stroke="#25903f" stroke-width="0.9" />
<line x1="274.90" y1="594.63" x2="277.90" y2="594.63" stroke="#25903f" stroke-width="0.9" />
<line x1="276.40" y1="598.91" x2="276.40" y2="603.20" stroke="#25903f" stroke-width="0.9" opacity="0.8"/>
<line x1="274.90" y1="603.20" x2="277.90" y2="603.20" stroke="#25903f" stroke-width="0.9" opacity="0.8"/>
<circle cx="276.40" cy="590.82" r="1.45" fill="#25903f"/>
<circle cx="276.40" cy="595.58" r="1.45" fill="#25903f"/>
<circle cx="274.90" cy="597.96" r="1.45" fill="#25903f"/>
<circle cx="277.90" cy="599.86" r="1.45" fill="#25903f"/>
<circle cx="276.40" cy="601.77" r="1.45" fill="#25903f"/>
<circle cx="275.40" cy="602.72" r="1.45" fill="#25903f"/>
<text x="276.40" y="588.10" font-size="6.4" text-anchor="middle" fill="#333" font-weight="normal" stroke="#333" stroke-width="0.1" >ns</text>
<line x1="276.40" y1="617.00" x2="276.40" y2="619.60" stroke="#111" stroke-width="0.9" />
<line x1="210.70" y1="544.10" x2="210.70" y2="617.50" stroke="#111" stroke-width="1.1" />
<line x1="210.20" y1="617.00" x2="284.70" y2="617.00" stroke="#111" stroke-width="1.1" />
<line x1="208.10" y1="617.00" x2="210.70" y2="617.00" stroke="#111" stroke-width="0.9" />
<text x="205.20" y="619.20" font-size="6.2" text-anchor="end" fill="#222" font-weight="normal" stroke="#222" stroke-width="0.1" >0</text>
<line x1="208.10" y1="593.20" x2="210.70" y2="593.20" stroke="#111" stroke-width="0.9" />
<text x="205.20" y="595.40" font-size="6.2" text-anchor="end" fill="#222" font-weight="normal" stroke="#222" stroke-width="0.1" >50</text>
<line x1="208.10" y1="569.40" x2="210.70" y2="569.40" stroke="#111" stroke-width="0.9" />
<text x="205.20" y="571.60" font-size="6.2" text-anchor="end" fill="#222" font-weight="normal" stroke="#222" stroke-width="0.1" >100</text>
<line x1="208.10" y1="545.60" x2="210.70" y2="545.60" stroke="#111" stroke-width="0.9" />
<text x="205.20" y="547.80" font-size="6.2" text-anchor="end" fill="#222" font-weight="normal" stroke="#222" stroke-width="0.1" >150</text>
<text x="0" y="0" font-size="7.4" fill="#111" stroke="#111" stroke-width="0.1" text-anchor="middle" transform="translate(189.39,578.50) rotate(-90)">U/L</text>
<text x="359.80" y="539.10" font-size="8.4" text-anchor="middle" fill="#111" font-weight="normal" stroke="#111" stroke-width="0.1" >AST</text>
<rect x="327.00" y="595.04" width="6.8" height="21.96" fill="#7ea7cb"/>
<line x1="330.40" y1="595.04" x2="330.40" y2="592.37" stroke="#174d78" stroke-width="0.9" />
<line x1="328.90" y1="592.37" x2="331.90" y2="592.37" stroke="#174d78" stroke-width="0.9" />
<line x1="330.40" y1="595.04" x2="330.40" y2="597.72" stroke="#174d78" stroke-width="0.9" opacity="0.8"/>
<line x1="328.90" y1="597.72" x2="331.90" y2="597.72" stroke="#174d78" stroke-width="0.9" opacity="0.8"/>
<circle cx="330.40" cy="592.01" r="1.45" fill="#174d78"/>
<circle cx="328.90" cy="593.44" r="1.45" fill="#174d78"/>
<circle cx="331.90" cy="595.58" r="1.45" fill="#174d78"/>
<circle cx="330.40" cy="597.37" r="1.45" fill="#174d78"/>
<circle cx="329.40" cy="600.04" r="1.45" fill="#174d78"/>
<circle cx="331.40" cy="599.15" r="1.45" fill="#174d78"/>
<line x1="330.40" y1="617.00" x2="330.40" y2="619.60" stroke="#111" stroke-width="0.9" />
<rect x="346.25" y="571.30" width="6.8" height="45.70" fill="#a887b5"/>
<line x1="349.65" y1="571.30" x2="349.65" y2="560.59" stroke="#3a1848" stroke-width="0.9" />
<line x1="348.15" y1="560.59" x2="351.15" y2="560.59" stroke="#3a1848" stroke-width="0.9" />
<line x1="349.65" y1="571.30" x2="349.65" y2="582.01" stroke="#3a1848" stroke-width="0.9" opacity="0.8"/>
<line x1="348.15" y1="582.01" x2="351.15" y2="582.01" stroke="#3a1848" stroke-width="0.9" opacity="0.8"/>
<circle cx="349.65" cy="560.77" r="1.45" fill="#3a1848"/>
<circle cx="348.15" cy="565.24" r="1.45" fill="#3a1848"/>
<circle cx="351.15" cy="567.02" r="1.45" fill="#3a1848"/>
<circle cx="349.65" cy="572.38" r="1.45" fill="#3a1848"/>
<circle cx="348.65" cy="584.87" r="1.45" fill="#3a1848"/>
<circle cx="349.65" cy="590.23" r="1.45" fill="#3a1848"/>
<text x="349.65" y="559.40" font-size="6.4" text-anchor="middle" fill="#333" font-weight="normal" stroke="#333" stroke-width="0.1" >****</text>
<line x1="349.65" y1="617.00" x2="349.65" y2="619.60" stroke="#111" stroke-width="0.9" />
<rect x="365.50" y="593.79" width="6.8" height="23.21" fill="#f47ec1"/>
<line x1="368.90" y1="593.79" x2="368.90" y2="586.65" stroke="#cf1f7c" stroke-width="0.9" />
<line x1="367.40" y1="586.65" x2="370.40" y2="586.65" stroke="#cf1f7c" stroke-width="0.9" />
<line x1="368.90" y1="593.79" x2="368.90" y2="600.94" stroke="#cf1f7c" stroke-width="0.9" opacity="0.8"/>
<line x1="367.40" y1="600.94" x2="370.40" y2="600.94" stroke="#cf1f7c" stroke-width="0.9" opacity="0.8"/>
<circle cx="368.90" cy="581.30" r="1.45" fill="#cf1f7c"/>
<circle cx="368.90" cy="587.55" r="1.45" fill="#cf1f7c"/>
<circle cx="367.40" cy="593.79" r="1.45" fill="#cf1f7c"/>
<circle cx="370.40" cy="595.58" r="1.45" fill="#cf1f7c"/>
<circle cx="368.90" cy="598.26" r="1.45" fill="#cf1f7c"/>
<circle cx="369.90" cy="599.15" r="1.45" fill="#cf1f7c"/>
<text x="368.90" y="578.70" font-size="6.4" text-anchor="middle" fill="#333" font-weight="normal" stroke="#333" stroke-width="0.1" >ns</text>
<line x1="368.90" y1="617.00" x2="368.90" y2="619.60" stroke="#111" stroke-width="0.9" />
<rect x="384.75" y="593.44" width="6.8" height="23.56" fill="#93d59b"/>
<line x1="388.15" y1="593.44" x2="388.15" y2="588.08" stroke="#25903f" stroke-width="0.9" />
<line x1="386.65" y1="588.08" x2="389.65" y2="588.08" stroke="#25903f" stroke-width="0.9" />
<line x1="388.15" y1="593.44" x2="388.15" y2="598.79" stroke="#25903f" stroke-width="0.9" opacity="0.8"/>
<line x1="386.65" y1="598.79" x2="389.65" y2="598.79" stroke="#25903f" stroke-width="0.9" opacity="0.8"/>
<circle cx="388.15" cy="583.09" r="1.45" fill="#25903f"/>
<circle cx="388.15" cy="587.55" r="1.45" fill="#25903f"/>
<circle cx="389.65" cy="592.01" r="1.45" fill="#25903f"/>
<circle cx="386.65" cy="593.79" r="1.45" fill="#25903f"/>
<circle cx="388.15" cy="597.37" r="1.45" fill="#25903f"/>
<circle cx="389.15" cy="597.01" r="1.45" fill="#25903f"/>
<text x="388.15" y="581.30" font-size="6.4" text-anchor="middle" fill="#333" font-weight="normal" stroke="#333" stroke-width="0.1" >ns</text>
<line x1="388.15" y1="617.00" x2="388.15" y2="619.60" stroke="#111" stroke-width="0.9" />
<line x1="322.80" y1="544.10" x2="322.80" y2="617.50" stroke="#111" stroke-width="1.1" />
<line x1="322.30" y1="617.00" x2="396.80" y2="617.00" stroke="#111" stroke-width="1.1" />
<line x1="320.20" y1="617.00" x2="322.80" y2="617.00" stroke="#111" stroke-width="0.9" />
<text x="317.30" y="619.20" font-size="6.2" text-anchor="end" fill="#222" font-weight="normal" stroke="#222" stroke-width="0.1" >0</text>
<line x1="320.20" y1="599.15" x2="322.80" y2="599.15" stroke="#111" stroke-width="0.9" />
<text x="317.30" y="601.35" font-size="6.2" text-anchor="end" fill="#222" font-weight="normal" stroke="#222" stroke-width="0.1" >100</text>
<line x1="320.20" y1="581.30" x2="322.80" y2="581.30" stroke="#111" stroke-width="0.9" />
<text x="317.30" y="583.50" font-size="6.2" text-anchor="end" fill="#222" font-weight="normal" stroke="#222" stroke-width="0.1" >200</text>
<line x1="320.20" y1="563.45" x2="322.80" y2="563.45" stroke="#111" stroke-width="0.9" />
<text x="317.30" y="565.65" font-size="6.2" text-anchor="end" fill="#222" font-weight="normal" stroke="#222" stroke-width="0.1" >300</text>
<line x1="320.20" y1="545.60" x2="322.80" y2="545.60" stroke="#111" stroke-width="0.9" />
<text x="317.30" y="547.80" font-size="6.2" text-anchor="end" fill="#222" font-weight="normal" stroke="#222" stroke-width="0.1" >400</text>
<text x="0" y="0" font-size="7.4" fill="#111" stroke="#111" stroke-width="0.1" text-anchor="middle" transform="translate(301.49,578.50) rotate(-90)">U/L</text>
<rect x="0" y="0" width="520" height="1" fill="#626262"/>
<rect x="0" y="0" width="1" height="627" fill="#5c5c5c"/>
<rect x="519" y="0" width="1" height="627" fill="#525252"/>
<rect x="0" y="626" width="520" height="1" fill="#484848"/>
</svg>
</body></html>
